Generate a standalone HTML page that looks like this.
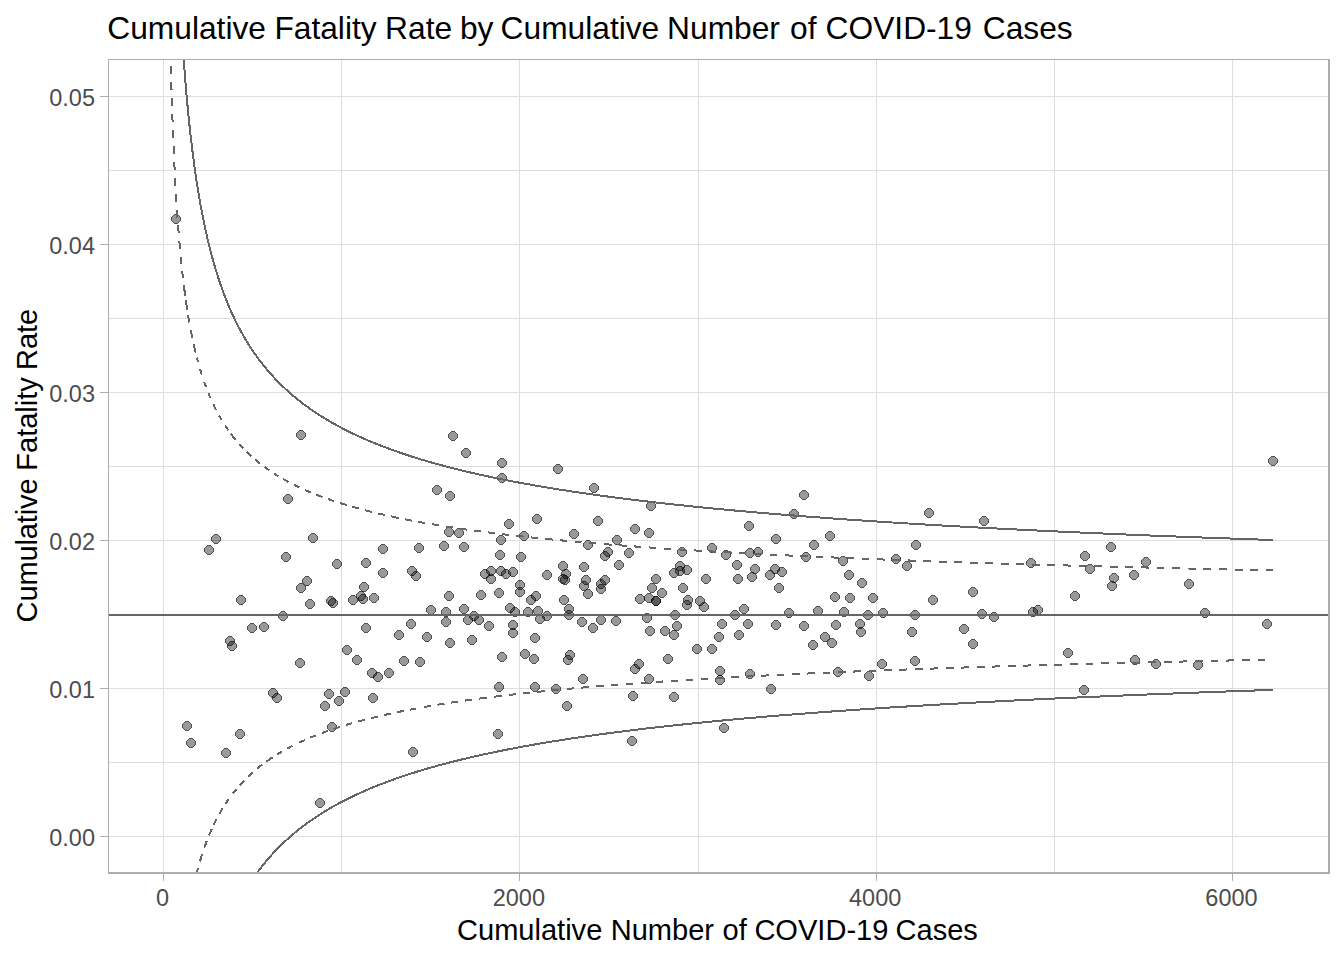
<!DOCTYPE html>
<html><head><meta charset="utf-8"><style>
html,body{margin:0;padding:0;background:#fff;}
svg{display:block;}
.gm{stroke:#DEDEDE;stroke-width:1;}
.gM{stroke:#DEDEDE;stroke-width:1;}
.tk{stroke:#ADADAD;stroke-width:1;}
.bd{stroke:#ADADAD;}
text{font-family:"Liberation Sans",Arial,sans-serif;}
.ax{font-size:23.5px;fill:#4D4D4D;}
.ay{font-size:23.5px;fill:#4D4D4D;}
.ti{font-size:31.72px;fill:#000;}
.at{font-size:29.05px;fill:#000;}
.pf circle{fill:#000;fill-opacity:0.4;stroke:none;shape-rendering:crispEdges;}
.pr circle{fill:none;stroke:#000;stroke-opacity:0.45;stroke-width:1.25;shape-rendering:crispEdges;}
.fl{fill:none;stroke:#656565;stroke-width:2;shape-rendering:crispEdges;}
.fx{fill:none;stroke:#656565;stroke-width:2;shape-rendering:crispEdges;stroke-linecap:butt;}
.fd{fill:none;stroke:#656565;stroke-width:2;shape-rendering:crispEdges;stroke-dasharray:7.75 7.75;}
</style></head><body>
<svg width="1344" height="960" viewBox="0 0 1344 960">
<defs><g id="pt"><path fill="#000" fill-opacity="0.4" d="M3,0H7V1H8V2H9V3H10V7H9V8H8V9H7V10H3V9H2V8H1V7H0V3H1V2H2V1H3Z"/><path fill="#000" fill-opacity="0.48" d="M3,0h4v1h-4z M2,1h1v1h-1z M7,1h1v1h-1z M1,2h1v1h-1z M8,2h1v1h-1z M0,3h1v4h-1z M9,3h1v4h-1z M1,7h1v1h-1z M8,7h1v1h-1z M2,8h1v1h-1z M7,8h1v1h-1z M3,9h4v1h-4z"/></g><clipPath id="pc"><rect x="108.0" y="59.0" width="1222.0" height="815.0"/></clipPath></defs>
<rect width="1344" height="960" fill="#fff"/>
<line x1="341.5" y1="59.0" x2="341.5" y2="874.0" class="gm"/>
<line x1="698.5" y1="59.0" x2="698.5" y2="874.0" class="gm"/>
<line x1="1054.5" y1="59.0" x2="1054.5" y2="874.0" class="gm"/>
<line x1="108.0" y1="762.5" x2="1330.0" y2="762.5" class="gm"/>
<line x1="108.0" y1="614.5" x2="1330.0" y2="614.5" class="gm"/>
<line x1="108.0" y1="466.5" x2="1330.0" y2="466.5" class="gm"/>
<line x1="108.0" y1="318.5" x2="1330.0" y2="318.5" class="gm"/>
<line x1="108.0" y1="170.5" x2="1330.0" y2="170.5" class="gm"/>
<line x1="163.5" y1="59.0" x2="163.5" y2="874.0" class="gM"/>
<line x1="519.5" y1="59.0" x2="519.5" y2="874.0" class="gM"/>
<line x1="876.5" y1="59.0" x2="876.5" y2="874.0" class="gM"/>
<line x1="1232.5" y1="59.0" x2="1232.5" y2="874.0" class="gM"/>
<line x1="108.0" y1="836.5" x2="1330.0" y2="836.5" class="gM"/>
<line x1="108.0" y1="688.5" x2="1330.0" y2="688.5" class="gM"/>
<line x1="108.0" y1="540.5" x2="1330.0" y2="540.5" class="gM"/>
<line x1="108.0" y1="392.5" x2="1330.0" y2="392.5" class="gM"/>
<line x1="108.0" y1="244.5" x2="1330.0" y2="244.5" class="gM"/>
<line x1="108.0" y1="96.5" x2="1330.0" y2="96.5" class="gM"/>
<g class="pf" clip-path="url(#pc)">
<use href="#pt" x="171" y="214"/>
<use href="#pt" x="296" y="430"/>
<use href="#pt" x="283" y="494"/>
<use href="#pt" x="211" y="534"/>
<use href="#pt" x="308" y="533"/>
<use href="#pt" x="204" y="545"/>
<use href="#pt" x="281" y="552"/>
<use href="#pt" x="332" y="559"/>
<use href="#pt" x="361" y="558"/>
<use href="#pt" x="448" y="431"/>
<use href="#pt" x="461" y="448"/>
<use href="#pt" x="497" y="458"/>
<use href="#pt" x="497" y="473"/>
<use href="#pt" x="553" y="464"/>
<use href="#pt" x="589" y="483"/>
<use href="#pt" x="432" y="485"/>
<use href="#pt" x="445" y="491"/>
<use href="#pt" x="504" y="519"/>
<use href="#pt" x="532" y="514"/>
<use href="#pt" x="593" y="516"/>
<use href="#pt" x="444" y="527"/>
<use href="#pt" x="454" y="528"/>
<use href="#pt" x="496" y="535"/>
<use href="#pt" x="519" y="531"/>
<use href="#pt" x="569" y="529"/>
<use href="#pt" x="583" y="540"/>
<use href="#pt" x="378" y="544"/>
<use href="#pt" x="414" y="543"/>
<use href="#pt" x="439" y="541"/>
<use href="#pt" x="459" y="542"/>
<use href="#pt" x="495" y="550"/>
<use href="#pt" x="516" y="552"/>
<use href="#pt" x="558" y="561"/>
<use href="#pt" x="579" y="562"/>
<use href="#pt" x="603" y="547"/>
<use href="#pt" x="600" y="551"/>
<use href="#pt" x="612" y="535"/>
<use href="#pt" x="630" y="524"/>
<use href="#pt" x="644" y="528"/>
<use href="#pt" x="646" y="501"/>
<use href="#pt" x="624" y="548"/>
<use href="#pt" x="614" y="560"/>
<use href="#pt" x="677" y="547"/>
<use href="#pt" x="707" y="543"/>
<use href="#pt" x="721" y="550"/>
<use href="#pt" x="744" y="521"/>
<use href="#pt" x="745" y="548"/>
<use href="#pt" x="753" y="547"/>
<use href="#pt" x="771" y="534"/>
<use href="#pt" x="789" y="509"/>
<use href="#pt" x="732" y="560"/>
<use href="#pt" x="799" y="490"/>
<use href="#pt" x="825" y="531"/>
<use href="#pt" x="809" y="540"/>
<use href="#pt" x="801" y="552"/>
<use href="#pt" x="838" y="556"/>
<use href="#pt" x="924" y="508"/>
<use href="#pt" x="979" y="516"/>
<use href="#pt" x="911" y="540"/>
<use href="#pt" x="891" y="554"/>
<use href="#pt" x="902" y="561"/>
<use href="#pt" x="1026" y="558"/>
<use href="#pt" x="1080" y="551"/>
<use href="#pt" x="1106" y="542"/>
<use href="#pt" x="1141" y="557"/>
<use href="#pt" x="1268" y="456"/>
<use href="#pt" x="302" y="576"/>
<use href="#pt" x="296" y="583"/>
<use href="#pt" x="236" y="595"/>
<use href="#pt" x="305" y="599"/>
<use href="#pt" x="326" y="596"/>
<use href="#pt" x="328" y="598"/>
<use href="#pt" x="348" y="595"/>
<use href="#pt" x="359" y="582"/>
<use href="#pt" x="356" y="591"/>
<use href="#pt" x="358" y="594"/>
<use href="#pt" x="369" y="593"/>
<use href="#pt" x="278" y="611"/>
<use href="#pt" x="247" y="623"/>
<use href="#pt" x="259" y="622"/>
<use href="#pt" x="361" y="623"/>
<use href="#pt" x="225" y="636"/>
<use href="#pt" x="227" y="641"/>
<use href="#pt" x="342" y="645"/>
<use href="#pt" x="352" y="655"/>
<use href="#pt" x="295" y="658"/>
<use href="#pt" x="367" y="668"/>
<use href="#pt" x="373" y="672"/>
<use href="#pt" x="268" y="688"/>
<use href="#pt" x="272" y="693"/>
<use href="#pt" x="324" y="689"/>
<use href="#pt" x="340" y="687"/>
<use href="#pt" x="334" y="696"/>
<use href="#pt" x="320" y="701"/>
<use href="#pt" x="368" y="693"/>
<use href="#pt" x="378" y="568"/>
<use href="#pt" x="407" y="566"/>
<use href="#pt" x="411" y="571"/>
<use href="#pt" x="480" y="569"/>
<use href="#pt" x="486" y="566"/>
<use href="#pt" x="486" y="574"/>
<use href="#pt" x="496" y="566"/>
<use href="#pt" x="501" y="569"/>
<use href="#pt" x="508" y="567"/>
<use href="#pt" x="542" y="570"/>
<use href="#pt" x="561" y="569"/>
<use href="#pt" x="558" y="574"/>
<use href="#pt" x="560" y="575"/>
<use href="#pt" x="581" y="575"/>
<use href="#pt" x="579" y="581"/>
<use href="#pt" x="583" y="589"/>
<use href="#pt" x="515" y="580"/>
<use href="#pt" x="515" y="587"/>
<use href="#pt" x="444" y="591"/>
<use href="#pt" x="476" y="590"/>
<use href="#pt" x="494" y="588"/>
<use href="#pt" x="531" y="591"/>
<use href="#pt" x="526" y="595"/>
<use href="#pt" x="559" y="595"/>
<use href="#pt" x="426" y="605"/>
<use href="#pt" x="441" y="607"/>
<use href="#pt" x="459" y="604"/>
<use href="#pt" x="469" y="611"/>
<use href="#pt" x="463" y="615"/>
<use href="#pt" x="474" y="615"/>
<use href="#pt" x="505" y="603"/>
<use href="#pt" x="510" y="607"/>
<use href="#pt" x="523" y="607"/>
<use href="#pt" x="533" y="606"/>
<use href="#pt" x="542" y="611"/>
<use href="#pt" x="535" y="614"/>
<use href="#pt" x="564" y="604"/>
<use href="#pt" x="564" y="610"/>
<use href="#pt" x="577" y="617"/>
<use href="#pt" x="588" y="623"/>
<use href="#pt" x="406" y="619"/>
<use href="#pt" x="441" y="617"/>
<use href="#pt" x="484" y="621"/>
<use href="#pt" x="508" y="620"/>
<use href="#pt" x="508" y="628"/>
<use href="#pt" x="394" y="630"/>
<use href="#pt" x="422" y="632"/>
<use href="#pt" x="445" y="638"/>
<use href="#pt" x="467" y="635"/>
<use href="#pt" x="530" y="633"/>
<use href="#pt" x="399" y="656"/>
<use href="#pt" x="415" y="657"/>
<use href="#pt" x="384" y="668"/>
<use href="#pt" x="497" y="652"/>
<use href="#pt" x="520" y="649"/>
<use href="#pt" x="529" y="654"/>
<use href="#pt" x="565" y="650"/>
<use href="#pt" x="563" y="655"/>
<use href="#pt" x="578" y="674"/>
<use href="#pt" x="494" y="682"/>
<use href="#pt" x="530" y="682"/>
<use href="#pt" x="551" y="684"/>
<use href="#pt" x="562" y="701"/>
<use href="#pt" x="600" y="575"/>
<use href="#pt" x="596" y="579"/>
<use href="#pt" x="596" y="584"/>
<use href="#pt" x="596" y="615"/>
<use href="#pt" x="611" y="616"/>
<use href="#pt" x="651" y="574"/>
<use href="#pt" x="647" y="583"/>
<use href="#pt" x="657" y="588"/>
<use href="#pt" x="635" y="594"/>
<use href="#pt" x="644" y="593"/>
<use href="#pt" x="651" y="596"/>
<use href="#pt" x="651" y="596"/>
<use href="#pt" x="675" y="561"/>
<use href="#pt" x="675" y="566"/>
<use href="#pt" x="669" y="568"/>
<use href="#pt" x="682" y="565"/>
<use href="#pt" x="678" y="583"/>
<use href="#pt" x="683" y="595"/>
<use href="#pt" x="682" y="600"/>
<use href="#pt" x="695" y="596"/>
<use href="#pt" x="699" y="602"/>
<use href="#pt" x="701" y="574"/>
<use href="#pt" x="733" y="574"/>
<use href="#pt" x="750" y="564"/>
<use href="#pt" x="747" y="572"/>
<use href="#pt" x="770" y="564"/>
<use href="#pt" x="765" y="570"/>
<use href="#pt" x="777" y="567"/>
<use href="#pt" x="774" y="583"/>
<use href="#pt" x="642" y="613"/>
<use href="#pt" x="670" y="610"/>
<use href="#pt" x="672" y="621"/>
<use href="#pt" x="645" y="626"/>
<use href="#pt" x="660" y="626"/>
<use href="#pt" x="669" y="630"/>
<use href="#pt" x="739" y="604"/>
<use href="#pt" x="730" y="610"/>
<use href="#pt" x="784" y="608"/>
<use href="#pt" x="717" y="619"/>
<use href="#pt" x="743" y="619"/>
<use href="#pt" x="771" y="620"/>
<use href="#pt" x="714" y="632"/>
<use href="#pt" x="734" y="630"/>
<use href="#pt" x="692" y="644"/>
<use href="#pt" x="707" y="644"/>
<use href="#pt" x="663" y="654"/>
<use href="#pt" x="634" y="659"/>
<use href="#pt" x="630" y="664"/>
<use href="#pt" x="644" y="674"/>
<use href="#pt" x="715" y="666"/>
<use href="#pt" x="715" y="675"/>
<use href="#pt" x="745" y="669"/>
<use href="#pt" x="766" y="684"/>
<use href="#pt" x="628" y="691"/>
<use href="#pt" x="669" y="692"/>
<use href="#pt" x="844" y="570"/>
<use href="#pt" x="857" y="578"/>
<use href="#pt" x="830" y="592"/>
<use href="#pt" x="845" y="593"/>
<use href="#pt" x="868" y="593"/>
<use href="#pt" x="928" y="595"/>
<use href="#pt" x="968" y="587"/>
<use href="#pt" x="813" y="606"/>
<use href="#pt" x="839" y="607"/>
<use href="#pt" x="863" y="610"/>
<use href="#pt" x="878" y="608"/>
<use href="#pt" x="910" y="610"/>
<use href="#pt" x="977" y="609"/>
<use href="#pt" x="989" y="612"/>
<use href="#pt" x="799" y="621"/>
<use href="#pt" x="831" y="620"/>
<use href="#pt" x="855" y="619"/>
<use href="#pt" x="856" y="627"/>
<use href="#pt" x="820" y="632"/>
<use href="#pt" x="827" y="638"/>
<use href="#pt" x="808" y="640"/>
<use href="#pt" x="907" y="627"/>
<use href="#pt" x="959" y="624"/>
<use href="#pt" x="968" y="639"/>
<use href="#pt" x="877" y="659"/>
<use href="#pt" x="910" y="656"/>
<use href="#pt" x="833" y="667"/>
<use href="#pt" x="864" y="671"/>
<use href="#pt" x="1085" y="564"/>
<use href="#pt" x="1109" y="573"/>
<use href="#pt" x="1107" y="581"/>
<use href="#pt" x="1129" y="570"/>
<use href="#pt" x="1184" y="579"/>
<use href="#pt" x="1070" y="591"/>
<use href="#pt" x="1028" y="607"/>
<use href="#pt" x="1033" y="605"/>
<use href="#pt" x="1200" y="608"/>
<use href="#pt" x="1063" y="648"/>
<use href="#pt" x="1130" y="655"/>
<use href="#pt" x="1151" y="659"/>
<use href="#pt" x="1193" y="660"/>
<use href="#pt" x="1079" y="685"/>
<use href="#pt" x="1262" y="619"/>
<use href="#pt" x="182" y="721"/>
<use href="#pt" x="186" y="738"/>
<use href="#pt" x="235" y="729"/>
<use href="#pt" x="221" y="748"/>
<use href="#pt" x="327" y="722"/>
<use href="#pt" x="315" y="798"/>
<use href="#pt" x="493" y="729"/>
<use href="#pt" x="408" y="747"/>
<use href="#pt" x="627" y="736"/>
<use href="#pt" x="719" y="723"/>
</g>
<g clip-path="url(#pc)">
<line x1="108.0" y1="615" x2="1330.0" y2="615" class="fl"/>
<path class="fl" d="M164.41,-1994.57 L164.42,-1988.07 L164.42,-1981.58 L164.43,-1975.12 L164.43,-1968.67 L164.44,-1962.23 L164.44,-1955.81 L164.45,-1949.41 L164.45,-1943.02 L164.46,-1936.65 L164.46,-1930.30 L164.47,-1923.96 L164.47,-1917.63 L164.48,-1911.33 L164.48,-1905.03 L164.49,-1898.76 L164.49,-1892.50 L164.50,-1886.25 L164.50,-1880.02 L164.51,-1873.81 L164.51,-1867.61 L164.52,-1861.43 L164.52,-1855.26 L164.53,-1849.11 L164.53,-1842.97 L164.54,-1836.85 L164.54,-1830.74 L164.55,-1824.65 L164.55,-1818.57 L164.56,-1812.51 L164.56,-1806.47 L164.57,-1800.43 L164.57,-1794.42 L164.58,-1788.42 L164.58,-1782.43 L164.59,-1776.46 L164.59,-1770.50 L164.60,-1764.56 L164.61,-1758.64 L164.61,-1752.72 L164.62,-1746.83 L164.62,-1740.95 L164.63,-1735.08 L164.63,-1729.22 L164.64,-1723.39 L164.64,-1717.56 L164.65,-1711.75 L164.66,-1705.96 L164.66,-1700.18 L164.67,-1694.41 L164.67,-1688.66 L164.68,-1682.92 L164.69,-1677.20 L164.69,-1671.49 L164.70,-1665.79 L164.70,-1660.11 L164.71,-1654.45 L164.72,-1648.80 L164.72,-1643.16 L164.73,-1637.53 L164.73,-1631.92 L164.74,-1626.33 L164.75,-1620.74 L164.75,-1615.18 L164.76,-1609.62 L164.76,-1604.08 L164.77,-1598.55 L164.78,-1593.04 L164.78,-1587.54 L164.79,-1582.06 L164.80,-1576.58 L164.80,-1571.13 L164.81,-1565.68 L164.82,-1560.25 L164.82,-1554.83 L164.83,-1549.43 L164.84,-1544.04 L164.84,-1538.66 L164.85,-1533.30 L164.86,-1527.94 L164.86,-1522.61 L164.87,-1517.28 L164.88,-1511.97 L164.88,-1506.68 L164.89,-1501.39 L164.90,-1496.12 L164.90,-1490.86 L164.91,-1485.62 L164.92,-1480.39 L164.93,-1475.17 L164.93,-1469.96 L164.94,-1464.77 L164.95,-1459.59 L164.95,-1454.42 L164.96,-1449.27 L164.97,-1444.13 L164.98,-1439.00 L164.98,-1433.88 L164.99,-1428.78 L165.00,-1423.69 L165.01,-1418.61 L165.01,-1413.55 L165.02,-1408.49 L165.03,-1403.45 L165.04,-1398.43 L165.04,-1393.41 L165.05,-1388.41 L165.06,-1383.42 L165.07,-1378.44 L165.08,-1373.48 L165.08,-1368.53 L165.09,-1363.59 L165.10,-1358.66 L165.11,-1353.74 L165.12,-1348.84 L165.12,-1343.95 L165.13,-1339.07 L165.14,-1334.20 L165.15,-1329.35 L165.16,-1324.51 L165.16,-1319.67 L165.17,-1314.86 L165.18,-1310.05 L165.19,-1305.26 L165.20,-1300.47 L165.21,-1295.70 L165.21,-1290.94 L165.22,-1286.20 L165.23,-1281.46 L165.24,-1276.74 L165.25,-1272.03 L165.26,-1267.33 L165.27,-1262.64 L165.28,-1257.96 L165.28,-1253.30 L165.29,-1248.64 L165.30,-1244.00 L165.31,-1239.37 L165.32,-1234.75 L165.33,-1230.15 L165.34,-1225.55 L165.35,-1220.97 L165.36,-1216.39 L165.37,-1211.83 L165.38,-1207.28 L165.39,-1202.75 L165.39,-1198.22 L165.40,-1193.70 L165.41,-1189.20 L165.42,-1184.70 L165.43,-1180.22 L165.44,-1175.75 L165.45,-1171.29 L165.46,-1166.84 L165.47,-1162.40 L165.48,-1157.98 L165.49,-1153.56 L165.50,-1149.16 L165.51,-1144.76 L165.52,-1140.38 L165.53,-1136.01 L165.54,-1131.65 L165.55,-1127.30 L165.56,-1122.96 L165.57,-1118.63 L165.58,-1114.31 L165.59,-1110.00 L165.60,-1105.71 L165.61,-1101.42 L165.63,-1097.15 L165.64,-1092.88 L165.65,-1088.63 L165.66,-1084.39 L165.67,-1080.15 L165.68,-1075.93 L165.69,-1071.72 L165.70,-1067.52 L165.71,-1063.33 L165.72,-1059.15 L165.73,-1054.98 L165.74,-1050.82 L165.76,-1046.67 L165.77,-1042.53 L165.78,-1038.40 L165.79,-1034.29 L165.80,-1030.18 L165.81,-1026.08 L165.82,-1021.99 L165.84,-1017.92 L165.85,-1013.85 L165.86,-1009.79 L165.87,-1005.75 L165.88,-1001.71 L165.90,-997.68 L165.91,-993.67 L165.92,-989.66 L165.93,-985.66 L165.94,-981.68 L165.96,-977.70 L165.97,-973.73 L165.98,-969.78 L165.99,-965.83 L166.01,-961.89 L166.02,-957.97 L166.03,-954.05 L166.04,-950.14 L166.06,-946.24 L166.07,-942.35 L166.08,-938.48 L166.09,-934.61 L166.11,-930.75 L166.12,-926.90 L166.13,-923.06 L166.15,-919.23 L166.16,-915.41 L166.17,-911.59 L166.19,-907.79 L166.20,-904.00 L166.21,-900.22 L166.23,-896.44 L166.24,-892.68 L166.25,-888.92 L166.27,-885.18 L166.28,-881.44 L166.30,-877.71 L166.31,-874.00 L166.32,-870.29 L166.34,-866.59 L166.35,-862.90 L166.37,-859.22 L166.38,-855.55 L166.40,-851.88 L166.41,-848.23 L166.42,-844.59 L166.44,-840.95 L166.45,-837.32 L166.47,-833.71 L166.48,-830.10 L166.50,-826.50 L166.51,-822.91 L166.53,-819.33 L166.54,-815.76 L166.56,-812.19 L166.57,-808.64 L166.59,-805.09 L166.60,-801.56 L166.62,-798.03 L166.64,-794.51 L166.65,-791.00 L166.67,-787.50 L166.68,-784.00 L166.70,-780.52 L166.71,-777.04 L166.73,-773.58 L166.75,-770.12 L166.76,-766.67 L166.78,-763.23 L166.80,-759.79 L166.81,-756.37 L166.83,-752.96 L166.85,-749.55 L166.86,-746.15 L166.88,-742.76 L166.90,-739.38 L166.91,-736.01 L166.93,-732.64 L166.95,-729.28 L166.96,-725.94 L166.98,-722.60 L167.00,-719.26 L167.02,-715.94 L167.03,-712.63 L167.05,-709.32 L167.07,-706.02 L167.09,-702.73 L167.11,-699.45 L167.12,-696.18 L167.14,-692.91 L167.16,-689.65 L167.18,-686.40 L167.20,-683.16 L167.22,-679.93 L167.23,-676.70 L167.25,-673.49 L167.27,-670.28 L167.29,-667.08 L167.31,-663.88 L167.33,-660.70 L167.35,-657.52 L167.37,-654.35 L167.39,-651.19 L167.40,-648.04 L167.42,-644.89 L167.44,-641.75 L167.46,-638.62 L167.48,-635.50 L167.50,-632.39 L167.52,-629.28 L167.54,-626.18 L167.56,-623.09 L167.58,-620.01 L167.60,-616.93 L167.63,-613.86 L167.65,-610.80 L167.67,-607.75 L167.69,-604.70 L167.71,-601.67 L167.73,-598.64 L167.75,-595.61 L167.77,-592.60 L167.79,-589.59 L167.81,-586.59 L167.84,-583.60 L167.86,-580.61 L167.88,-577.64 L167.90,-574.67 L167.92,-571.70 L167.95,-568.75 L167.97,-565.80 L167.99,-562.86 L168.01,-559.92 L168.04,-557.00 L168.06,-554.08 L168.08,-551.17 L168.10,-548.26 L168.13,-545.37 L168.15,-542.48 L168.17,-539.59 L168.20,-536.72 L168.22,-533.85 L168.24,-530.99 L168.27,-528.13 L168.29,-525.29 L168.31,-522.45 L168.34,-519.61 L168.36,-516.79 L168.39,-513.97 L168.41,-511.16 L168.44,-508.35 L168.46,-505.56 L168.49,-502.76 L168.51,-499.98 L168.54,-497.20 L168.56,-494.43 L168.59,-491.67 L168.61,-488.91 L168.64,-486.17 L168.66,-483.42 L168.69,-480.69 L168.71,-477.96 L168.74,-475.24 L168.77,-472.52 L168.79,-469.81 L168.82,-467.11 L168.85,-464.42 L168.87,-461.73 L168.90,-459.05 L168.93,-456.37 L168.95,-453.70 L168.98,-451.04 L169.01,-448.39 L169.04,-445.74 L169.06,-443.10 L169.09,-440.46 L169.12,-437.83 L169.15,-435.21 L169.18,-432.59 L169.20,-429.98 L169.23,-427.38 L169.26,-424.79 L169.29,-422.20 L169.32,-419.61 L169.35,-417.04 L169.38,-414.47 L169.41,-411.90 L169.44,-409.35 L169.47,-406.79 L169.50,-404.25 L169.53,-401.71 L169.56,-399.18 L169.59,-396.65 L169.62,-394.13 L169.65,-391.62 L169.68,-389.11 L169.71,-386.61 L169.74,-384.12 L169.77,-381.63 L169.80,-379.15 L169.83,-376.67 L169.87,-374.20 L169.90,-371.74 L169.93,-369.28 L169.96,-366.83 L169.99,-364.38 L170.03,-361.94 L170.06,-359.51 L170.09,-357.08 L170.13,-354.66 L170.16,-352.25 L170.19,-349.84 L170.23,-347.44 L170.26,-345.04 L170.29,-342.65 L170.33,-340.26 L170.36,-337.88 L170.40,-335.51 L170.43,-333.14 L170.46,-330.78 L170.50,-328.43 L170.53,-326.08 L170.57,-323.73 L170.60,-321.40 L170.64,-319.06 L170.68,-316.74 L170.71,-314.42 L170.75,-312.10 L170.78,-309.79 L170.82,-307.49 L170.86,-305.19 L170.89,-302.90 L170.93,-300.61 L170.97,-298.33 L171.01,-296.06 L171.04,-293.79 L171.08,-291.53 L171.12,-289.27 L171.16,-287.02 L171.19,-284.77 L171.23,-282.53 L171.27,-280.29 L171.31,-278.07 L171.35,-275.84 L171.39,-273.62 L171.43,-271.41 L171.47,-269.20 L171.51,-267.00 L171.55,-264.80 L171.59,-262.61 L171.63,-260.43 L171.67,-258.25 L171.71,-256.07 L171.75,-253.90 L171.79,-251.74 L171.83,-249.58 L171.88,-247.43 L171.92,-245.28 L171.96,-243.14 L172.00,-241.00 L172.04,-238.87 L172.09,-236.74 L172.13,-234.62 L172.17,-232.50 L172.22,-230.39 L172.26,-228.29 L172.30,-226.19 L172.35,-224.09 L172.39,-222.00 L172.44,-219.92 L172.48,-217.84 L172.53,-215.76 L172.57,-213.69 L172.62,-211.63 L172.66,-209.57 L172.71,-207.52 L172.75,-205.47 L172.80,-203.43 L172.85,-201.39 L172.89,-199.35 L172.94,-197.33 L172.99,-195.30 L173.04,-193.29 L173.08,-191.27 L173.13,-189.26 L173.18,-187.26 L173.23,-185.26 L173.28,-183.27 L173.33,-181.28 L173.37,-179.30 L173.42,-177.32 L173.47,-175.35 L173.52,-173.38 L173.57,-171.42 L173.62,-169.46 L173.67,-167.50 L173.73,-165.55 L173.78,-163.61 L173.83,-161.67 L173.88,-159.74 L173.93,-157.81 L173.98,-155.88 L174.04,-153.96 L174.09,-152.05 L174.14,-150.14 L174.19,-148.23 L174.25,-146.33 L174.30,-144.44 L174.36,-142.54 L174.41,-140.66 L174.46,-138.78 L174.52,-136.90 L174.57,-135.03 L174.63,-133.16 L174.69,-131.29 L174.74,-129.44 L174.80,-127.58 L174.85,-125.73 L174.91,-123.89 L174.97,-122.05 L175.03,-120.21 L175.08,-118.38 L175.14,-116.55 L175.20,-114.73 L175.26,-112.92 L175.32,-111.10 L175.38,-109.29 L175.43,-107.49 L175.49,-105.69 L175.55,-103.90 L175.61,-102.11 L175.68,-100.32 L175.74,-98.54 L175.80,-96.76 L175.86,-94.99 L175.92,-93.22 L175.98,-91.46 L176.05,-89.70 L176.11,-87.94 L176.17,-86.19 L176.23,-84.45 L176.30,-82.70 L176.36,-80.97 L176.43,-79.23 L176.49,-77.50 L176.56,-75.78 L176.62,-74.06 L176.69,-72.34 L176.75,-70.63 L176.82,-68.92 L176.89,-67.22 L176.95,-65.52 L177.02,-63.83 L177.09,-62.14 L177.16,-60.45 L177.22,-58.77 L177.29,-57.09 L177.36,-55.41 L177.43,-53.75 L177.50,-52.08 L177.57,-50.42 L177.64,-48.76 L177.71,-47.11 L177.78,-45.46 L177.85,-43.81 L177.93,-42.17 L178.00,-40.54 L178.07,-38.90 L178.14,-37.28 L178.22,-35.65 L178.29,-34.03 L178.36,-32.41 L178.44,-30.80 L178.51,-29.19 L178.59,-27.59 L178.66,-25.99 L178.74,-24.39 L178.82,-22.80 L178.89,-21.21 L178.97,-19.63 L179.05,-18.05 L179.12,-16.47 L179.20,-14.90 L179.28,-13.33 L179.36,-11.76 L179.44,-10.20 L179.52,-8.65 L179.60,-7.09 L179.68,-5.54 L179.76,-4.00 L179.84,-2.46 L179.92,-0.92 L180.00,0.61 L180.09,2.14 L180.17,3.67 L180.25,5.19 L180.34,6.71 L180.42,8.23 L180.51,9.74 L180.59,11.25 L180.68,12.75 L180.76,14.25 L180.85,15.75 L180.94,17.24 L181.02,18.73 L181.11,20.21 L181.20,21.69 L181.29,23.17 L181.38,24.64 L181.47,26.11 L181.56,27.58 L181.65,29.04 L181.74,30.50 L181.83,31.96 L181.92,33.41 L182.01,34.86 L182.10,36.30 L182.20,37.75 L182.29,39.18 L182.38,40.62 L182.48,42.05 L182.57,43.47 L182.67,44.90 L182.76,46.32 L182.86,47.73 L182.96,49.15 L183.05,50.56 L183.15,51.96 L183.25,53.36 L183.35,54.76 L183.45,56.16 L183.55,57.55 L183.65,58.94 L183.75,60.32 L183.85,61.70 L183.95,63.08 L184.06,64.46 L184.16,65.83 L184.26,67.19 L184.36,68.56 L184.47,69.92 L184.57,71.28 L184.68,72.63 L184.79,73.98 L184.89,75.33 L185.00,76.67 L185.11,78.01 L185.21,79.35 L185.32,80.69 L185.43,82.02 L185.54,83.34 L185.65,84.67 L185.76,85.99 L185.87,87.31 L185.99,88.62 L186.10,89.93 L186.21,91.24 L186.32,92.54 L186.44,93.84 L186.55,95.14 L186.67,96.44 L186.78,97.73 L186.90,99.02 L187.02,100.30 L187.14,101.58 L187.25,102.86 L187.37,104.14 L187.49,105.41 L187.61,106.68 L187.73,107.94 L187.85,109.21 L187.98,110.47 L188.10,111.72 L188.22,112.98 L188.34,114.23 L188.47,115.47 L188.59,116.72 L188.72,117.96 L188.85,119.20 L188.97,120.43 L189.10,121.66 L189.23,122.89 L189.36,124.12 L189.49,125.34 L189.61,126.56 L189.75,127.78 L189.88,128.99 L190.01,130.20 L190.14,131.41 L190.27,132.61 L190.41,133.81 L190.54,135.01 L190.68,136.21 L190.81,137.40 L190.95,138.59 L191.09,139.77 L191.23,140.96 L191.36,142.14 L191.50,143.32 L191.64,144.49 L191.78,145.66 L191.93,146.83 L192.07,148.00 L192.21,149.16 L192.35,150.32 L192.50,151.48 L192.64,152.63 L192.79,153.78 L192.94,154.93 L193.08,156.08 L193.23,157.22 L193.38,158.36 L193.53,159.50 L193.68,160.63 L193.83,161.76 L193.98,162.89 L194.13,164.02 L194.29,165.14 L194.44,166.26 L194.60,167.38 L194.75,168.49 L194.91,169.61 L195.06,170.71 L195.22,171.82 L195.38,172.92 L195.54,174.03 L195.70,175.12 L195.86,176.22 L196.02,177.31 L196.19,178.40 L196.35,179.49 L196.51,180.57 L196.68,181.66 L196.84,182.73 L197.01,183.81 L197.18,184.89 L197.35,185.96 L197.52,187.02 L197.69,188.09 L197.86,189.15 L198.03,190.21 L198.20,191.27 L198.38,192.33 L198.55,193.38 L198.73,194.43 L198.90,195.48 L199.08,196.52 L199.26,197.56 L199.43,198.60 L199.61,199.64 L199.80,200.68 L199.98,201.71 L200.16,202.74 L200.34,203.76 L200.53,204.79 L200.71,205.81 L200.90,206.83 L201.08,207.84 L201.27,208.86 L201.46,209.87 L201.65,210.88 L201.84,211.88 L202.03,212.89 L202.23,213.89 L202.42,214.89 L202.61,215.89 L202.81,216.88 L203.01,217.87 L203.20,218.86 L203.40,219.85 L203.60,220.83 L203.80,221.81 L204.00,222.79 L204.21,223.77 L204.41,224.74 L204.62,225.71 L204.82,226.68 L205.03,227.65 L205.23,228.61 L205.44,229.58 L205.65,230.54 L205.86,231.49 L206.08,232.45 L206.29,233.40 L206.50,234.35 L206.72,235.30 L206.93,236.25 L207.15,237.19 L207.37,238.13 L207.59,239.07 L207.81,240.00 L208.03,240.94 L208.25,241.87 L208.48,242.80 L208.70,243.73 L208.93,244.65 L209.15,245.57 L209.38,246.49 L209.61,247.41 L209.84,248.33 L210.07,249.24 L210.31,250.15 L210.54,251.06 L210.78,251.96 L211.01,252.87 L211.25,253.77 L211.49,254.67 L211.73,255.57 L211.97,256.46 L212.21,257.36 L212.46,258.25 L212.70,259.13 L212.95,260.02 L213.19,260.90 L213.44,261.79 L213.69,262.67 L213.94,263.54 L214.20,264.42 L214.45,265.29 L214.70,266.16 L214.96,267.03 L215.22,267.90 L215.48,268.76 L215.74,269.62 L216.00,270.48 L216.26,271.34 L216.52,272.20 L216.79,273.05 L217.06,273.90 L217.32,274.75 L217.59,275.60 L217.86,276.45 L218.13,277.29 L218.41,278.13 L218.68,278.97 L218.96,279.81 L219.24,280.64 L219.51,281.47 L219.79,282.30 L220.08,283.13 L220.36,283.96 L220.64,284.78 L220.93,285.60 L221.22,286.43 L221.50,287.24 L221.79,288.06 L222.09,288.87 L222.38,289.69 L222.67,290.50 L222.97,291.30 L223.27,292.11 L223.56,292.91 L223.87,293.72 L224.17,294.52 L224.47,295.31 L224.78,296.11 L225.08,296.90 L225.39,297.70 L225.70,298.49 L226.01,299.27 L226.32,300.06 L226.64,300.85 L226.95,301.63 L227.27,302.41 L227.59,303.19 L227.91,303.96 L228.23,304.74 L228.55,305.51 L228.88,306.28 L229.21,307.05 L229.54,307.82 L229.87,308.58 L230.20,309.34 L230.53,310.11 L230.87,310.86 L231.20,311.62 L231.54,312.38 L231.88,313.13 L232.22,313.88 L232.57,314.63 L232.91,315.38 L233.26,316.13 L233.61,316.87 L233.96,317.61 L234.31,318.35 L234.67,319.09 L235.02,319.83 L235.38,320.56 L235.74,321.30 L236.10,322.03 L236.46,322.76 L236.83,323.49 L237.19,324.21 L237.56,324.94 L237.93,325.66 L238.30,326.38 L238.68,327.10 L239.05,327.82 L239.43,328.53 L239.81,329.24 L240.19,329.96 L240.58,330.67 L240.96,331.37 L241.35,332.08 L241.74,332.78 L242.13,333.49 L242.52,334.19 L242.92,334.89 L243.32,335.58 L243.71,336.28 L244.12,336.97 L244.52,337.67 L244.92,338.36 L245.33,339.05 L245.74,339.73 L246.15,340.42 L246.56,341.10 L246.98,341.78 L247.40,342.46 L247.82,343.14 L248.24,343.82 L248.66,344.50 L249.09,345.17 L249.52,345.84 L249.95,346.51 L250.38,347.18 L250.81,347.85 L251.25,348.51 L251.69,349.18 L252.13,349.84 L252.57,350.50 L253.02,351.16 L253.46,351.81 L253.91,352.47 L254.37,353.12 L254.82,353.78 L255.28,354.43 L255.74,355.07 L256.20,355.72 L256.66,356.37 L257.13,357.01 L257.60,357.65 L258.07,358.29 L258.54,358.93 L259.01,359.57 L259.49,360.21 L259.97,360.84 L260.45,361.47 L260.94,362.11 L261.43,362.74 L261.92,363.36 L262.41,363.99 L262.90,364.62 L263.40,365.24 L263.90,365.86 L264.40,366.48 L264.90,367.10 L265.41,367.72 L265.92,368.33 L266.43,368.95 L266.95,369.56 L267.47,370.17 L267.99,370.78 L268.51,371.39 L269.03,372.00 L269.56,372.60 L270.09,373.20 L270.62,373.81 L271.16,374.41 L271.70,375.01 L272.24,375.60 L272.78,376.20 L273.33,376.79 L273.88,377.39 L274.43,377.98 L274.98,378.57 L275.54,379.16 L276.10,379.75 L276.66,380.33 L277.23,380.92 L277.80,381.50 L278.37,382.08 L278.95,382.66 L279.52,383.24 L280.10,383.82 L280.69,384.39 L281.27,384.97 L281.86,385.54 L282.45,386.11 L283.05,386.68 L283.64,387.25 L284.25,387.82 L284.85,388.38 L285.46,388.95 L286.07,389.51 L286.68,390.07 L287.29,390.63 L287.91,391.19 L288.54,391.75 L289.16,392.30 L289.79,392.86 L290.42,393.41 L291.05,393.96 L291.69,394.51 L292.33,395.06 L292.98,395.61 L293.63,396.15 L294.28,396.70 L294.93,397.24 L295.59,397.79 L296.25,398.33 L296.91,398.87 L297.58,399.40 L298.25,399.94 L298.92,400.48 L299.60,401.01 L300.28,401.54 L300.96,402.07 L301.65,402.60 L302.34,403.13 L303.04,403.66 L303.73,404.19 L304.43,404.71 L305.14,405.24 L305.85,405.76 L306.56,406.28 L307.27,406.80 L307.99,407.32 L308.72,407.83 L309.44,408.35 L310.17,408.87 L310.91,409.38 L311.64,409.89 L312.38,410.40 L313.13,410.91 L313.88,411.42 L314.63,411.93 L315.38,412.43 L316.14,412.94 L316.91,413.44 L317.67,413.94 L318.44,414.44 L319.22,414.94 L320.00,415.44 L320.78,415.94 L321.57,416.43 L322.36,416.93 L323.15,417.42 L323.95,417.91 L324.75,418.40 L325.56,418.89 L326.37,419.38 L327.18,419.87 L328.00,420.35 L328.82,420.84 L329.65,421.32 L330.48,421.80 L331.31,422.28 L332.15,422.76 L333.00,423.24 L333.84,423.72 L334.70,424.20 L335.55,424.67 L336.41,425.15 L337.28,425.62 L338.15,426.09 L339.02,426.56 L339.90,427.03 L340.78,427.50 L341.67,427.96 L342.56,428.43 L343.45,428.89 L344.35,429.36 L345.26,429.82 L346.16,430.28 L347.08,430.74 L348.00,431.20 L348.92,431.66 L349.84,432.11 L350.78,432.57 L351.71,433.02 L352.65,433.48 L353.60,433.93 L354.55,434.38 L355.51,434.83 L356.47,435.28 L357.43,435.73 L358.40,436.17 L359.37,436.62 L360.35,437.06 L361.34,437.50 L362.33,437.95 L363.32,438.39 L364.32,438.83 L365.32,439.27 L366.33,439.70 L367.35,440.14 L368.37,440.57 L369.39,441.01 L370.42,441.44 L371.46,441.87 L372.50,442.31 L373.54,442.74 L374.59,443.16 L375.65,443.59 L376.71,444.02 L377.77,444.44 L378.84,444.87 L379.92,445.29 L381.00,445.72 L382.09,446.14 L383.18,446.56 L384.28,446.98 L385.39,447.39 L386.50,447.81 L387.61,448.23 L388.73,448.64 L389.86,449.06 L390.99,449.47 L392.13,449.88 L393.27,450.29 L394.42,450.70 L395.57,451.11 L396.73,451.52 L397.90,451.93 L399.07,452.33 L400.25,452.74 L401.43,453.14 L402.62,453.55 L403.82,453.95 L405.02,454.35 L406.23,454.75 L407.44,455.15 L408.66,455.55 L409.89,455.94 L411.12,456.34 L412.36,456.73 L413.60,457.13 L414.85,457.52 L416.11,457.91 L417.37,458.30 L418.64,458.69 L419.92,459.08 L421.20,459.47 L422.49,459.86 L423.78,460.25 L425.08,460.63 L426.39,461.02 L427.71,461.40 L429.03,461.78 L430.35,462.16 L431.69,462.54 L433.03,462.92 L434.38,463.30 L435.73,463.68 L437.09,464.06 L438.46,464.43 L439.84,464.81 L441.22,465.18 L442.61,465.55 L444.00,465.93 L445.40,466.30 L446.81,466.67 L448.23,467.04 L449.65,467.40 L451.08,467.77 L452.52,468.14 L453.97,468.50 L455.42,468.87 L456.88,469.23 L458.35,469.60 L459.82,469.96 L461.30,470.32 L462.79,470.68 L464.29,471.04 L465.79,471.40 L467.30,471.75 L468.82,472.11 L470.35,472.47 L471.88,472.82 L473.42,473.18 L474.97,473.53 L476.53,473.88 L478.10,474.23 L479.67,474.58 L481.25,474.93 L482.84,475.28 L484.44,475.63 L486.04,475.98 L487.65,476.32 L489.27,476.67 L490.90,477.01 L492.54,477.36 L494.18,477.70 L495.84,478.04 L497.50,478.38 L499.17,478.72 L500.85,479.06 L502.54,479.40 L504.23,479.74 L505.93,480.07 L507.65,480.41 L509.37,480.74 L511.10,481.08 L512.83,481.41 L514.58,481.74 L516.34,482.08 L518.10,482.41 L519.87,482.74 L521.66,483.07 L523.45,483.39 L525.25,483.72 L527.05,484.05 L528.87,484.38 L530.70,484.70 L532.54,485.02 L534.38,485.35 L536.23,485.67 L538.10,485.99 L539.97,486.31 L541.85,486.63 L543.75,486.95 L545.65,487.27 L547.56,487.59 L549.48,487.91 L551.41,488.22 L553.35,488.54 L555.30,488.86 L557.26,489.17 L559.22,489.48 L561.20,489.79 L563.19,490.11 L565.19,490.42 L567.20,490.73 L569.22,491.04 L571.25,491.35 L573.28,491.65 L575.33,491.96 L577.39,492.27 L579.46,492.57 L581.54,492.88 L583.63,493.18 L585.73,493.48 L587.84,493.79 L589.97,494.09 L592.10,494.39 L594.24,494.69 L596.39,494.99 L598.56,495.29 L600.73,495.59 L602.92,495.88 L605.12,496.18 L607.33,496.48 L609.54,496.77 L611.77,497.07 L614.02,497.36 L616.27,497.65 L618.53,497.94 L620.81,498.24 L623.09,498.53 L625.39,498.82 L627.70,499.11 L630.02,499.39 L632.36,499.68 L634.70,499.97 L637.06,500.26 L639.42,500.54 L641.80,500.83 L644.19,501.11 L646.60,501.39 L649.01,501.68 L651.44,501.96 L653.88,502.24 L656.33,502.52 L658.80,502.80 L661.27,503.08 L663.76,503.36 L666.26,503.64 L668.78,503.91 L671.30,504.19 L673.84,504.47 L676.39,504.74 L678.96,505.02 L681.54,505.29 L684.13,505.56 L686.73,505.83 L689.35,506.11 L691.97,506.38 L694.62,506.65 L697.27,506.92 L699.94,507.19 L702.61,507.45 L705.29,507.72 L707.96,507.98 L710.63,508.24 L713.30,508.50 L715.98,508.76 L718.65,509.02 L721.32,509.27 L723.99,509.52 L726.67,509.77 L729.34,510.02 L732.01,510.27 L734.68,510.52 L737.36,510.76 L740.03,511.00 L742.70,511.24 L745.37,511.48 L748.05,511.72 L750.72,511.95 L753.39,512.18 L756.06,512.42 L758.74,512.65 L761.41,512.88 L764.08,513.10 L766.75,513.33 L769.43,513.55 L772.10,513.78 L774.77,514.00 L777.44,514.22 L780.12,514.44 L782.79,514.65 L785.46,514.87 L788.13,515.08 L790.81,515.30 L793.48,515.51 L796.15,515.72 L798.82,515.93 L801.50,516.13 L804.17,516.34 L806.84,516.55 L809.51,516.75 L812.19,516.95 L814.86,517.15 L817.53,517.35 L820.20,517.55 L822.88,517.75 L825.55,517.95 L828.22,518.14 L830.89,518.34 L833.57,518.53 L836.24,518.72 L838.91,518.91 L841.58,519.10 L844.26,519.29 L846.93,519.48 L849.60,519.66 L852.27,519.85 L854.95,520.03 L857.62,520.21 L860.29,520.40 L862.96,520.58 L865.64,520.76 L868.31,520.93 L870.98,521.11 L873.65,521.29 L876.33,521.46 L879.00,521.64 L881.67,521.81 L884.34,521.99 L887.02,522.16 L889.69,522.33 L892.36,522.50 L895.03,522.67 L897.71,522.84 L900.38,523.00 L903.05,523.17 L905.72,523.33 L908.40,523.50 L911.07,523.66 L913.74,523.83 L916.41,523.99 L919.09,524.15 L921.76,524.31 L924.43,524.47 L927.10,524.63 L929.78,524.78 L932.45,524.94 L935.12,525.10 L937.79,525.25 L940.47,525.41 L943.14,525.56 L945.81,525.71 L948.48,525.86 L951.16,526.02 L953.83,526.17 L956.50,526.32 L959.17,526.47 L961.85,526.61 L964.52,526.76 L967.19,526.91 L969.86,527.05 L972.54,527.20 L975.21,527.34 L977.88,527.49 L980.55,527.63 L983.23,527.77 L985.90,527.91 L988.57,528.06 L991.24,528.20 L993.92,528.34 L996.59,528.47 L999.26,528.61 L1001.93,528.75 L1004.61,528.89 L1007.28,529.02 L1009.95,529.16 L1012.62,529.30 L1015.30,529.43 L1017.97,529.56 L1020.64,529.70 L1023.31,529.83 L1025.99,529.96 L1028.66,530.09 L1031.33,530.22 L1034.00,530.35 L1036.68,530.48 L1039.35,530.61 L1042.02,530.74 L1044.69,530.87 L1047.37,531.00 L1050.04,531.12 L1052.71,531.25 L1055.38,531.37 L1058.06,531.50 L1060.73,531.62 L1063.40,531.75 L1066.07,531.87 L1068.75,531.99 L1071.42,532.11 L1074.09,532.24 L1076.76,532.36 L1079.44,532.48 L1082.11,532.60 L1084.78,532.72 L1087.45,532.84 L1090.13,532.96 L1092.80,533.07 L1095.47,533.19 L1098.14,533.31 L1100.82,533.42 L1103.49,533.54 L1106.16,533.66 L1108.83,533.77 L1111.51,533.89 L1114.18,534.00 L1116.85,534.11 L1119.52,534.23 L1122.20,534.34 L1124.87,534.45 L1127.54,534.56 L1130.21,534.67 L1132.89,534.78 L1135.56,534.89 L1138.23,535.00 L1140.90,535.11 L1143.58,535.22 L1146.25,535.33 L1148.92,535.44 L1151.59,535.55 L1154.27,535.65 L1156.94,535.76 L1159.61,535.87 L1162.28,535.97 L1164.96,536.08 L1167.63,536.18 L1170.30,536.29 L1172.97,536.39 L1175.65,536.50 L1178.32,536.60 L1180.99,536.70 L1183.67,536.80 L1186.34,536.91 L1189.01,537.01 L1191.68,537.11 L1194.36,537.21 L1197.03,537.31 L1199.70,537.41 L1202.37,537.51 L1205.05,537.61 L1207.72,537.71 L1210.39,537.81 L1213.06,537.91 L1215.74,538.00 L1218.41,538.10 L1221.08,538.20 L1223.75,538.30 L1226.43,538.39 L1229.10,538.49 L1231.77,538.58 L1234.44,538.68 L1237.12,538.77 L1239.79,538.87 L1242.46,538.96 L1245.13,539.06 L1247.81,539.15 L1250.48,539.24 L1253.15,539.34 L1255.82,539.43 L1258.50,539.52 L1261.17,539.61 L1263.84,539.70 L1266.51,539.80 L1269.19,539.89 L1271.86,539.98 L1272.77,540.01"/>
<path class="fl" d="M164.60,2994.45 L164.61,2988.52 L164.61,2982.61 L164.62,2976.72 L164.62,2970.83 L164.63,2964.97 L164.63,2959.11 L164.64,2953.27 L164.64,2947.45 L164.65,2941.64 L164.66,2935.85 L164.66,2930.06 L164.67,2924.30 L164.67,2918.55 L164.68,2912.81 L164.69,2907.09 L164.69,2901.38 L164.70,2895.68 L164.70,2890.00 L164.71,2884.34 L164.72,2878.68 L164.72,2873.04 L164.73,2867.42 L164.73,2861.81 L164.74,2856.21 L164.75,2850.63 L164.75,2845.06 L164.76,2839.51 L164.76,2833.97 L164.77,2828.44 L164.78,2822.93 L164.78,2817.43 L164.79,2811.94 L164.80,2806.47 L164.80,2801.01 L164.81,2795.57 L164.82,2790.14 L164.82,2784.72 L164.83,2779.32 L164.84,2773.92 L164.84,2768.55 L164.85,2763.18 L164.86,2757.83 L164.86,2752.50 L164.87,2747.17 L164.88,2741.86 L164.88,2736.56 L164.89,2731.28 L164.90,2726.01 L164.90,2720.75 L164.91,2715.51 L164.92,2710.27 L164.93,2705.06 L164.93,2699.85 L164.94,2694.66 L164.95,2689.48 L164.95,2684.31 L164.96,2679.16 L164.97,2674.01 L164.98,2668.89 L164.98,2663.77 L164.99,2658.67 L165.00,2653.58 L165.01,2648.50 L165.01,2643.43 L165.02,2638.38 L165.03,2633.34 L165.04,2628.32 L165.04,2623.30 L165.05,2618.30 L165.06,2613.31 L165.07,2608.33 L165.08,2603.37 L165.08,2598.41 L165.09,2593.47 L165.10,2588.55 L165.11,2583.63 L165.12,2578.73 L165.12,2573.84 L165.13,2568.96 L165.14,2564.09 L165.15,2559.24 L165.16,2554.39 L165.16,2549.56 L165.17,2544.74 L165.18,2539.94 L165.19,2535.14 L165.20,2530.36 L165.21,2525.59 L165.21,2520.83 L165.22,2516.08 L165.23,2511.35 L165.24,2506.63 L165.25,2501.91 L165.26,2497.21 L165.27,2492.53 L165.28,2487.85 L165.28,2483.19 L165.29,2478.53 L165.30,2473.89 L165.31,2469.26 L165.32,2464.64 L165.33,2460.04 L165.34,2455.44 L165.35,2450.86 L165.36,2446.28 L165.37,2441.72 L165.38,2437.17 L165.39,2432.63 L165.39,2428.11 L165.40,2423.59 L165.41,2419.09 L165.42,2414.59 L165.43,2410.11 L165.44,2405.64 L165.45,2401.18 L165.46,2396.73 L165.47,2392.29 L165.48,2387.86 L165.49,2383.45 L165.50,2379.04 L165.51,2374.65 L165.52,2370.27 L165.53,2365.90 L165.54,2361.53 L165.55,2357.18 L165.56,2352.85 L165.57,2348.52 L165.58,2344.20 L165.59,2339.89 L165.60,2335.60 L165.61,2331.31 L165.63,2327.04 L165.64,2322.77 L165.65,2318.52 L165.66,2314.27 L165.67,2310.04 L165.68,2305.82 L165.69,2301.61 L165.70,2297.41 L165.71,2293.22 L165.72,2289.04 L165.73,2284.87 L165.74,2280.71 L165.76,2276.56 L165.77,2272.42 L165.78,2268.29 L165.79,2264.17 L165.80,2260.07 L165.81,2255.97 L165.82,2251.88 L165.84,2247.81 L165.85,2243.74 L165.86,2239.68 L165.87,2235.63 L165.88,2231.60 L165.90,2227.57 L165.91,2223.56 L165.92,2219.55 L165.93,2215.55 L165.94,2211.57 L165.96,2207.59 L165.97,2203.62 L165.98,2199.67 L165.99,2195.72 L166.01,2191.78 L166.02,2187.85 L166.03,2183.94 L166.04,2180.03 L166.06,2176.13 L166.07,2172.24 L166.08,2168.36 L166.09,2164.49 L166.11,2160.63 L166.12,2156.79 L166.13,2152.94 L166.15,2149.11 L166.16,2145.29 L166.17,2141.48 L166.19,2137.68 L166.20,2133.89 L166.21,2130.10 L166.23,2126.33 L166.24,2122.57 L166.25,2118.81 L166.27,2115.06 L166.28,2111.33 L166.30,2107.60 L166.31,2103.88 L166.32,2100.18 L166.34,2096.48 L166.35,2092.79 L166.37,2089.11 L166.38,2085.43 L166.40,2081.77 L166.41,2078.12 L166.42,2074.47 L166.44,2070.84 L166.45,2067.21 L166.47,2063.60 L166.48,2059.99 L166.50,2056.39 L166.51,2052.80 L166.53,2049.22 L166.54,2045.64 L166.56,2042.08 L166.57,2038.53 L166.59,2034.98 L166.60,2031.44 L166.62,2027.92 L166.64,2024.40 L166.65,2020.89 L166.67,2017.38 L166.68,2013.89 L166.70,2010.41 L166.71,2006.93 L166.73,2003.46 L166.75,2000.01 L166.76,1996.56 L166.78,1993.12 L166.80,1989.68 L166.81,1986.26 L166.83,1982.84 L166.85,1979.44 L166.86,1976.04 L166.88,1972.65 L166.90,1969.27 L166.91,1965.89 L166.93,1962.53 L166.95,1959.17 L166.96,1955.82 L166.98,1952.48 L167.00,1949.15 L167.02,1945.83 L167.03,1942.51 L167.05,1939.21 L167.07,1935.91 L167.09,1932.62 L167.11,1929.34 L167.12,1926.06 L167.14,1922.80 L167.16,1919.54 L167.18,1916.29 L167.20,1913.05 L167.22,1909.82 L167.23,1906.59 L167.25,1903.38 L167.27,1900.17 L167.29,1896.97 L167.31,1893.77 L167.33,1890.59 L167.35,1887.41 L167.37,1884.24 L167.39,1881.08 L167.40,1877.93 L167.42,1874.78 L167.44,1871.64 L167.46,1868.51 L167.48,1865.39 L167.50,1862.28 L167.52,1859.17 L167.54,1856.07 L167.56,1852.98 L167.58,1849.90 L167.60,1846.82 L167.63,1843.75 L167.65,1840.69 L167.67,1837.64 L167.69,1834.59 L167.71,1831.55 L167.73,1828.52 L167.75,1825.50 L167.77,1822.49 L167.79,1819.48 L167.81,1816.48 L167.84,1813.49 L167.86,1810.50 L167.88,1807.52 L167.90,1804.55 L167.92,1801.59 L167.95,1798.63 L167.97,1795.69 L167.99,1792.75 L168.01,1789.81 L168.04,1786.89 L168.06,1783.97 L168.08,1781.06 L168.10,1778.15 L168.13,1775.25 L168.15,1772.36 L168.17,1769.48 L168.20,1766.61 L168.22,1763.74 L168.24,1760.88 L168.27,1758.02 L168.29,1755.18 L168.31,1752.34 L168.34,1749.50 L168.36,1746.68 L168.39,1743.86 L168.41,1741.05 L168.44,1738.24 L168.46,1735.44 L168.49,1732.65 L168.51,1729.87 L168.54,1727.09 L168.56,1724.32 L168.59,1721.56 L168.61,1718.80 L168.64,1716.05 L168.66,1713.31 L168.69,1710.58 L168.71,1707.85 L168.74,1705.12 L168.77,1702.41 L168.79,1699.70 L168.82,1697.00 L168.85,1694.30 L168.87,1691.62 L168.90,1688.93 L168.93,1686.26 L168.95,1683.59 L168.98,1680.93 L169.01,1678.27 L169.04,1675.63 L169.06,1672.98 L169.09,1670.35 L169.12,1667.72 L169.15,1665.10 L169.18,1662.48 L169.20,1659.87 L169.23,1657.27 L169.26,1654.67 L169.29,1652.08 L169.32,1649.50 L169.35,1646.92 L169.38,1644.35 L169.41,1641.79 L169.44,1639.23 L169.47,1636.68 L169.50,1634.14 L169.53,1631.60 L169.56,1629.07 L169.59,1626.54 L169.62,1624.02 L169.65,1621.51 L169.68,1619.00 L169.71,1616.50 L169.74,1614.01 L169.77,1611.52 L169.80,1609.04 L169.83,1606.56 L169.87,1604.09 L169.90,1601.63 L169.93,1599.17 L169.96,1596.72 L169.99,1594.27 L170.03,1591.83 L170.06,1589.40 L170.09,1586.97 L170.13,1584.55 L170.16,1582.14 L170.19,1579.73 L170.23,1577.32 L170.26,1574.93 L170.29,1572.54 L170.33,1570.15 L170.36,1567.77 L170.40,1565.40 L170.43,1563.03 L170.46,1560.67 L170.50,1558.31 L170.53,1555.97 L170.57,1553.62 L170.60,1551.28 L170.64,1548.95 L170.68,1546.63 L170.71,1544.30 L170.75,1541.99 L170.78,1539.68 L170.82,1537.38 L170.86,1535.08 L170.89,1532.79 L170.93,1530.50 L170.97,1528.22 L171.01,1525.95 L171.04,1523.68 L171.08,1521.42 L171.12,1519.16 L171.16,1516.91 L171.19,1514.66 L171.23,1512.42 L171.27,1510.18 L171.31,1507.95 L171.35,1505.73 L171.39,1503.51 L171.43,1501.30 L171.47,1499.09 L171.51,1496.89 L171.55,1494.69 L171.59,1492.50 L171.63,1490.31 L171.67,1488.13 L171.71,1485.96 L171.75,1483.79 L171.79,1481.63 L171.83,1479.47 L171.88,1477.31 L171.92,1475.17 L171.96,1473.02 L172.00,1470.89 L172.04,1468.75 L172.09,1466.63 L172.13,1464.51 L172.17,1462.39 L172.22,1460.28 L172.26,1458.17 L172.30,1456.07 L172.35,1453.98 L172.39,1451.89 L172.44,1449.80 L172.48,1447.73 L172.53,1445.65 L172.57,1443.58 L172.62,1441.52 L172.66,1439.46 L172.71,1437.41 L172.75,1435.36 L172.80,1433.31 L172.85,1431.28 L172.89,1429.24 L172.94,1427.21 L172.99,1425.19 L173.04,1423.17 L173.08,1421.16 L173.13,1419.15 L173.18,1417.15 L173.23,1415.15 L173.28,1413.16 L173.33,1411.17 L173.37,1409.19 L173.42,1407.21 L173.47,1405.24 L173.52,1403.27 L173.57,1401.30 L173.62,1399.35 L173.67,1397.39 L173.73,1395.44 L173.78,1393.50 L173.83,1391.56 L173.88,1389.63 L173.93,1387.70 L173.98,1385.77 L174.04,1383.85 L174.09,1381.94 L174.14,1380.03 L174.19,1378.12 L174.25,1376.22 L174.30,1374.32 L174.36,1372.43 L174.41,1370.55 L174.46,1368.66 L174.52,1366.79 L174.57,1364.91 L174.63,1363.05 L174.69,1361.18 L174.74,1359.32 L174.80,1357.47 L174.85,1355.62 L174.91,1353.78 L174.97,1351.94 L175.03,1350.10 L175.08,1348.27 L175.14,1346.44 L175.20,1344.62 L175.26,1342.80 L175.32,1340.99 L175.38,1339.18 L175.43,1337.38 L175.49,1335.58 L175.55,1333.78 L175.61,1331.99 L175.68,1330.21 L175.74,1328.43 L175.80,1326.65 L175.86,1324.88 L175.92,1323.11 L175.98,1321.34 L176.05,1319.58 L176.11,1317.83 L176.17,1316.08 L176.23,1314.33 L176.30,1312.59 L176.36,1310.85 L176.43,1309.12 L176.49,1307.39 L176.56,1305.67 L176.62,1303.95 L176.69,1302.23 L176.75,1300.52 L176.82,1298.81 L176.89,1297.11 L176.95,1295.41 L177.02,1293.71 L177.09,1292.02 L177.16,1290.34 L177.22,1288.65 L177.29,1286.98 L177.36,1285.30 L177.43,1283.63 L177.50,1281.97 L177.57,1280.31 L177.64,1278.65 L177.71,1277.00 L177.78,1275.35 L177.85,1273.70 L177.93,1272.06 L178.00,1270.42 L178.07,1268.79 L178.14,1267.16 L178.22,1265.54 L178.29,1263.92 L178.36,1262.30 L178.44,1260.69 L178.51,1259.08 L178.59,1257.48 L178.66,1255.88 L178.74,1254.28 L178.82,1252.69 L178.89,1251.10 L178.97,1249.52 L179.05,1247.94 L179.12,1246.36 L179.20,1244.79 L179.28,1243.22 L179.36,1241.65 L179.44,1240.09 L179.52,1238.53 L179.60,1236.98 L179.68,1235.43 L179.76,1233.89 L179.84,1232.34 L179.92,1230.81 L180.00,1229.27 L180.09,1227.74 L180.17,1226.22 L180.25,1224.69 L180.34,1223.18 L180.42,1221.66 L180.51,1220.15 L180.59,1218.64 L180.68,1217.14 L180.76,1215.64 L180.85,1214.14 L180.94,1212.65 L181.02,1211.16 L181.11,1209.68 L181.20,1208.20 L181.29,1206.72 L181.38,1205.24 L181.47,1203.77 L181.56,1202.31 L181.65,1200.84 L181.74,1199.38 L181.83,1197.93 L181.92,1196.48 L182.01,1195.03 L182.10,1193.58 L182.20,1192.14 L182.29,1190.71 L182.38,1189.27 L182.48,1187.84 L182.57,1186.41 L182.67,1184.99 L182.76,1183.57 L182.86,1182.15 L182.96,1180.74 L183.05,1179.33 L183.15,1177.93 L183.25,1176.52 L183.35,1175.13 L183.45,1173.73 L183.55,1172.34 L183.65,1170.95 L183.75,1169.57 L183.85,1168.18 L183.95,1166.81 L184.06,1165.43 L184.16,1164.06 L184.26,1162.69 L184.36,1161.33 L184.47,1159.97 L184.57,1158.61 L184.68,1157.26 L184.79,1155.91 L184.89,1154.56 L185.00,1153.21 L185.11,1151.87 L185.21,1150.54 L185.32,1149.20 L185.43,1147.87 L185.54,1146.54 L185.65,1145.22 L185.76,1143.90 L185.87,1142.58 L185.99,1141.27 L186.10,1139.96 L186.21,1138.65 L186.32,1137.35 L186.44,1136.04 L186.55,1134.75 L186.67,1133.45 L186.78,1132.16 L186.90,1130.87 L187.02,1129.59 L187.14,1128.31 L187.25,1127.03 L187.37,1125.75 L187.49,1124.48 L187.61,1123.21 L187.73,1121.94 L187.85,1120.68 L187.98,1119.42 L188.10,1118.16 L188.22,1116.91 L188.34,1115.66 L188.47,1114.41 L188.59,1113.17 L188.72,1111.93 L188.85,1110.69 L188.97,1109.46 L189.10,1108.23 L189.23,1107.00 L189.36,1105.77 L189.49,1104.55 L189.61,1103.33 L189.75,1102.11 L189.88,1100.90 L190.01,1099.69 L190.14,1098.48 L190.27,1097.28 L190.41,1096.08 L190.54,1094.88 L190.68,1093.68 L190.81,1092.49 L190.95,1091.30 L191.09,1090.11 L191.23,1088.93 L191.36,1087.75 L191.50,1086.57 L191.64,1085.40 L191.78,1084.23 L191.93,1083.06 L192.07,1081.89 L192.21,1080.73 L192.35,1079.57 L192.50,1078.41 L192.64,1077.26 L192.79,1076.11 L192.94,1074.96 L193.08,1073.81 L193.23,1072.67 L193.38,1071.53 L193.53,1070.39 L193.68,1069.26 L193.83,1068.12 L193.98,1067.00 L194.13,1065.87 L194.29,1064.75 L194.44,1063.63 L194.60,1062.51 L194.75,1061.39 L194.91,1060.28 L195.06,1059.17 L195.22,1058.07 L195.38,1056.96 L195.54,1055.86 L195.70,1054.76 L195.86,1053.67 L196.02,1052.58 L196.19,1051.49 L196.35,1050.40 L196.51,1049.31 L196.68,1048.23 L196.84,1047.15 L197.01,1046.08 L197.18,1045.00 L197.35,1043.93 L197.52,1042.86 L197.69,1041.80 L197.86,1040.73 L198.03,1039.67 L198.20,1038.62 L198.38,1037.56 L198.55,1036.51 L198.73,1035.46 L198.90,1034.41 L199.08,1033.37 L199.26,1032.32 L199.43,1031.28 L199.61,1030.25 L199.80,1029.21 L199.98,1028.18 L200.16,1027.15 L200.34,1026.13 L200.53,1025.10 L200.71,1024.08 L200.90,1023.06 L201.08,1022.04 L201.27,1021.03 L201.46,1020.02 L201.65,1019.01 L201.84,1018.00 L202.03,1017.00 L202.23,1016.00 L202.42,1015.00 L202.61,1014.00 L202.81,1013.01 L203.01,1012.02 L203.20,1011.03 L203.40,1010.04 L203.60,1009.06 L203.80,1008.08 L204.00,1007.10 L204.21,1006.12 L204.41,1005.15 L204.62,1004.17 L204.82,1003.20 L205.03,1002.24 L205.23,1001.27 L205.44,1000.31 L205.65,999.35 L205.86,998.39 L206.08,997.44 L206.29,996.49 L206.50,995.54 L206.72,994.59 L206.93,993.64 L207.15,992.70 L207.37,991.76 L207.59,990.82 L207.81,989.88 L208.03,988.95 L208.25,988.02 L208.48,987.09 L208.70,986.16 L208.93,985.24 L209.15,984.32 L209.38,983.40 L209.61,982.48 L209.84,981.56 L210.07,980.65 L210.31,979.74 L210.54,978.83 L210.78,977.92 L211.01,977.02 L211.25,976.12 L211.49,975.22 L211.73,974.32 L211.97,973.43 L212.21,972.53 L212.46,971.64 L212.70,970.75 L212.95,969.87 L213.19,968.98 L213.44,968.10 L213.69,967.22 L213.94,966.34 L214.20,965.47 L214.45,964.60 L214.70,963.73 L214.96,962.86 L215.22,961.99 L215.48,961.13 L215.74,960.26 L216.00,959.40 L216.26,958.55 L216.52,957.69 L216.79,956.84 L217.06,955.98 L217.32,955.14 L217.59,954.29 L217.86,953.44 L218.13,952.60 L218.41,951.76 L218.68,950.92 L218.96,950.08 L219.24,949.25 L219.51,948.42 L219.79,947.58 L220.08,946.76 L220.36,945.93 L220.64,945.11 L220.93,944.28 L221.22,943.46 L221.50,942.64 L221.79,941.83 L222.09,941.01 L222.38,940.20 L222.67,939.39 L222.97,938.58 L223.27,937.78 L223.56,936.97 L223.87,936.17 L224.17,935.37 L224.47,934.57 L224.78,933.78 L225.08,932.98 L225.39,932.19 L225.70,931.40 L226.01,930.61 L226.32,929.83 L226.64,929.04 L226.95,928.26 L227.27,927.48 L227.59,926.70 L227.91,925.92 L228.23,925.15 L228.55,924.38 L228.88,923.61 L229.21,922.84 L229.54,922.07 L229.87,921.31 L230.20,920.54 L230.53,919.78 L230.87,919.02 L231.20,918.27 L231.54,917.51 L231.88,916.76 L232.22,916.00 L232.57,915.26 L232.91,914.51 L233.26,913.76 L233.61,913.02 L233.96,912.27 L234.31,911.53 L234.67,910.80 L235.02,910.06 L235.38,909.32 L235.74,908.59 L236.10,907.86 L236.46,907.13 L236.83,906.40 L237.19,905.68 L237.56,904.95 L237.93,904.23 L238.30,903.51 L238.68,902.79 L239.05,902.07 L239.43,901.36 L239.81,900.64 L240.19,899.93 L240.58,899.22 L240.96,898.51 L241.35,897.81 L241.74,897.10 L242.13,896.40 L242.52,895.70 L242.92,895.00 L243.32,894.30 L243.71,893.61 L244.12,892.91 L244.52,892.22 L244.92,891.53 L245.33,890.84 L245.74,890.15 L246.15,889.47 L246.56,888.79 L246.98,888.10 L247.40,887.42 L247.82,886.74 L248.24,886.07 L248.66,885.39 L249.09,884.72 L249.52,884.05 L249.95,883.38 L250.38,882.71 L250.81,882.04 L251.25,881.38 L251.69,880.71 L252.13,880.05 L252.57,879.39 L253.02,878.73 L253.46,878.07 L253.91,877.42 L254.37,876.77 L254.82,876.11 L255.28,875.46 L255.74,874.81 L256.20,874.17 L256.66,873.52 L257.13,872.88 L257.60,872.23 L258.07,871.59 L258.54,870.95 L259.01,870.32 L259.49,869.68 L259.97,869.05 L260.45,868.41 L260.94,867.78 L261.43,867.15 L261.92,866.52 L262.41,865.90 L262.90,865.27 L263.40,864.65 L263.90,864.03 L264.40,863.41 L264.90,862.79 L265.41,862.17 L265.92,861.55 L266.43,860.94 L266.95,860.33 L267.47,859.72 L267.99,859.11 L268.51,858.50 L269.03,857.89 L269.56,857.29 L270.09,856.68 L270.62,856.08 L271.16,855.48 L271.70,854.88 L272.24,854.28 L272.78,853.69 L273.33,853.09 L273.88,852.50 L274.43,851.91 L274.98,851.32 L275.54,850.73 L276.10,850.14 L276.66,849.56 L277.23,848.97 L277.80,848.39 L278.37,847.81 L278.95,847.23 L279.52,846.65 L280.10,846.07 L280.69,845.50 L281.27,844.92 L281.86,844.35 L282.45,843.78 L283.05,843.21 L283.64,842.64 L284.25,842.07 L284.85,841.51 L285.46,840.94 L286.07,840.38 L286.68,839.82 L287.29,839.26 L287.91,838.70 L288.54,838.14 L289.16,837.59 L289.79,837.03 L290.42,836.48 L291.05,835.93 L291.69,835.38 L292.33,834.83 L292.98,834.28 L293.63,833.73 L294.28,833.19 L294.93,832.64 L295.59,832.10 L296.25,831.56 L296.91,831.02 L297.58,830.48 L298.25,829.95 L298.92,829.41 L299.60,828.88 L300.28,828.34 L300.96,827.81 L301.65,827.28 L302.34,826.75 L303.04,826.23 L303.73,825.70 L304.43,825.18 L305.14,824.65 L305.85,824.13 L306.56,823.61 L307.27,823.09 L307.99,822.57 L308.72,822.05 L309.44,821.54 L310.17,821.02 L310.91,820.51 L311.64,820.00 L312.38,819.49 L313.13,818.98 L313.88,818.47 L314.63,817.96 L315.38,817.46 L316.14,816.95 L316.91,816.45 L317.67,815.95 L318.44,815.45 L319.22,814.95 L320.00,814.45 L320.78,813.95 L321.57,813.46 L322.36,812.96 L323.15,812.47 L323.95,811.98 L324.75,811.49 L325.56,811.00 L326.37,810.51 L327.18,810.02 L328.00,809.54 L328.82,809.05 L329.65,808.57 L330.48,808.09 L331.31,807.60 L332.15,807.12 L333.00,806.65 L333.84,806.17 L334.70,805.69 L335.55,805.22 L336.41,804.74 L337.28,804.27 L338.15,803.80 L339.02,803.33 L339.90,802.86 L340.78,802.39 L341.67,801.92 L342.56,801.46 L343.45,800.99 L344.35,800.53 L345.26,800.07 L346.16,799.61 L347.08,799.15 L348.00,798.69 L348.92,798.23 L349.84,797.77 L350.78,797.32 L351.71,796.86 L352.65,796.41 L353.60,795.96 L354.55,795.51 L355.51,795.06 L356.47,794.61 L357.43,794.16 L358.40,793.72 L359.37,793.27 L360.35,792.83 L361.34,792.38 L362.33,791.94 L363.32,791.50 L364.32,791.06 L365.32,790.62 L366.33,790.19 L367.35,789.75 L368.37,789.31 L369.39,788.88 L370.42,788.45 L371.46,788.01 L372.50,787.58 L373.54,787.15 L374.59,786.72 L375.65,786.30 L376.71,785.87 L377.77,785.44 L378.84,785.02 L379.92,784.60 L381.00,784.17 L382.09,783.75 L383.18,783.33 L384.28,782.91 L385.39,782.49 L386.50,782.08 L387.61,781.66 L388.73,781.24 L389.86,780.83 L390.99,780.42 L392.13,780.00 L393.27,779.59 L394.42,779.18 L395.57,778.77 L396.73,778.37 L397.90,777.96 L399.07,777.55 L400.25,777.15 L401.43,776.74 L402.62,776.34 L403.82,775.94 L405.02,775.54 L406.23,775.14 L407.44,774.74 L408.66,774.34 L409.89,773.94 L411.12,773.55 L412.36,773.15 L413.60,772.76 L414.85,772.37 L416.11,771.97 L417.37,771.58 L418.64,771.19 L419.92,770.80 L421.20,770.42 L422.49,770.03 L423.78,769.64 L425.08,769.26 L426.39,768.87 L427.71,768.49 L429.03,768.11 L430.35,767.73 L431.69,767.34 L433.03,766.97 L434.38,766.59 L435.73,766.21 L437.09,765.83 L438.46,765.46 L439.84,765.08 L441.22,764.71 L442.61,764.33 L444.00,763.96 L445.40,763.59 L446.81,763.22 L448.23,762.85 L449.65,762.48 L451.08,762.12 L452.52,761.75 L453.97,761.38 L455.42,761.02 L456.88,760.66 L458.35,760.29 L459.82,759.93 L461.30,759.57 L462.79,759.21 L464.29,758.85 L465.79,758.49 L467.30,758.13 L468.82,757.78 L470.35,757.42 L471.88,757.07 L473.42,756.71 L474.97,756.36 L476.53,756.01 L478.10,755.66 L479.67,755.31 L481.25,754.96 L482.84,754.61 L484.44,754.26 L486.04,753.91 L487.65,753.57 L489.27,753.22 L490.90,752.88 L492.54,752.53 L494.18,752.19 L495.84,751.85 L497.50,751.51 L499.17,751.17 L500.85,750.83 L502.54,750.49 L504.23,750.15 L505.93,749.81 L507.65,749.48 L509.37,749.14 L511.10,748.81 L512.83,748.48 L514.58,748.14 L516.34,747.81 L518.10,747.48 L519.87,747.15 L521.66,746.82 L523.45,746.49 L525.25,746.17 L527.05,745.84 L528.87,745.51 L530.70,745.19 L532.54,744.86 L534.38,744.54 L536.23,744.22 L538.10,743.89 L539.97,743.57 L541.85,743.25 L543.75,742.93 L545.65,742.61 L547.56,742.30 L549.48,741.98 L551.41,741.66 L553.35,741.35 L555.30,741.03 L557.26,740.72 L559.22,740.41 L561.20,740.09 L563.19,739.78 L565.19,739.47 L567.20,739.16 L569.22,738.85 L571.25,738.54 L573.28,738.23 L575.33,737.93 L577.39,737.62 L579.46,737.32 L581.54,737.01 L583.63,736.71 L585.73,736.40 L587.84,736.10 L589.97,735.80 L592.10,735.50 L594.24,735.20 L596.39,734.90 L598.56,734.60 L600.73,734.30 L602.92,734.00 L605.12,733.71 L607.33,733.41 L609.54,733.12 L611.77,732.82 L614.02,732.53 L616.27,732.24 L618.53,731.94 L620.81,731.65 L623.09,731.36 L625.39,731.07 L627.70,730.78 L630.02,730.49 L632.36,730.21 L634.70,729.92 L637.06,729.63 L639.42,729.35 L641.80,729.06 L644.19,728.78 L646.60,728.49 L649.01,728.21 L651.44,727.93 L653.88,727.65 L656.33,727.37 L658.80,727.09 L661.27,726.81 L663.76,726.53 L666.26,726.25 L668.78,725.97 L671.30,725.70 L673.84,725.42 L676.39,725.15 L678.96,724.87 L681.54,724.60 L684.13,724.33 L686.73,724.05 L689.35,723.78 L691.97,723.51 L694.62,723.24 L697.27,722.97 L699.94,722.70 L702.61,722.43 L705.29,722.17 L707.96,721.90 L710.63,721.64 L713.30,721.38 L715.98,721.13 L718.65,720.87 L721.32,720.62 L723.99,720.36 L726.67,720.11 L729.34,719.86 L732.01,719.62 L734.68,719.37 L737.36,719.13 L740.03,718.89 L742.70,718.65 L745.37,718.41 L748.05,718.17 L750.72,717.94 L753.39,717.70 L756.06,717.47 L758.74,717.24 L761.41,717.01 L764.08,716.78 L766.75,716.56 L769.43,716.33 L772.10,716.11 L774.77,715.89 L777.44,715.67 L780.12,715.45 L782.79,715.23 L785.46,715.02 L788.13,714.80 L790.81,714.59 L793.48,714.38 L796.15,714.17 L798.82,713.96 L801.50,713.75 L804.17,713.55 L806.84,713.34 L809.51,713.14 L812.19,712.94 L814.86,712.73 L817.53,712.53 L820.20,712.34 L822.88,712.14 L825.55,711.94 L828.22,711.75 L830.89,711.55 L833.57,711.36 L836.24,711.17 L838.91,710.98 L841.58,710.79 L844.26,710.60 L846.93,710.41 L849.60,710.23 L852.27,710.04 L854.95,709.86 L857.62,709.67 L860.29,709.49 L862.96,709.31 L865.64,709.13 L868.31,708.95 L870.98,708.78 L873.65,708.60 L876.33,708.42 L879.00,708.25 L881.67,708.07 L884.34,707.90 L887.02,707.73 L889.69,707.56 L892.36,707.39 L895.03,707.22 L897.71,707.05 L900.38,706.88 L903.05,706.72 L905.72,706.55 L908.40,706.39 L911.07,706.23 L913.74,706.06 L916.41,705.90 L919.09,705.74 L921.76,705.58 L924.43,705.42 L927.10,705.26 L929.78,705.10 L932.45,704.95 L935.12,704.79 L937.79,704.64 L940.47,704.48 L943.14,704.33 L945.81,704.18 L948.48,704.02 L951.16,703.87 L953.83,703.72 L956.50,703.57 L959.17,703.42 L961.85,703.27 L964.52,703.13 L967.19,702.98 L969.86,702.83 L972.54,702.69 L975.21,702.54 L977.88,702.40 L980.55,702.26 L983.23,702.12 L985.90,701.97 L988.57,701.83 L991.24,701.69 L993.92,701.55 L996.59,701.41 L999.26,701.27 L1001.93,701.14 L1004.61,701.00 L1007.28,700.86 L1009.95,700.73 L1012.62,700.59 L1015.30,700.46 L1017.97,700.32 L1020.64,700.19 L1023.31,700.06 L1025.99,699.93 L1028.66,699.80 L1031.33,699.66 L1034.00,699.53 L1036.68,699.40 L1039.35,699.28 L1042.02,699.15 L1044.69,699.02 L1047.37,698.89 L1050.04,698.77 L1052.71,698.64 L1055.38,698.51 L1058.06,698.39 L1060.73,698.27 L1063.40,698.14 L1066.07,698.02 L1068.75,697.90 L1071.42,697.77 L1074.09,697.65 L1076.76,697.53 L1079.44,697.41 L1082.11,697.29 L1084.78,697.17 L1087.45,697.05 L1090.13,696.93 L1092.80,696.81 L1095.47,696.70 L1098.14,696.58 L1100.82,696.46 L1103.49,696.35 L1106.16,696.23 L1108.83,696.12 L1111.51,696.00 L1114.18,695.89 L1116.85,695.78 L1119.52,695.66 L1122.20,695.55 L1124.87,695.44 L1127.54,695.33 L1130.21,695.21 L1132.89,695.10 L1135.56,694.99 L1138.23,694.88 L1140.90,694.77 L1143.58,694.67 L1146.25,694.56 L1148.92,694.45 L1151.59,694.34 L1154.27,694.23 L1156.94,694.13 L1159.61,694.02 L1162.28,693.92 L1164.96,693.81 L1167.63,693.71 L1170.30,693.60 L1172.97,693.50 L1175.65,693.39 L1178.32,693.29 L1180.99,693.19 L1183.67,693.08 L1186.34,692.98 L1189.01,692.88 L1191.68,692.78 L1194.36,692.68 L1197.03,692.58 L1199.70,692.48 L1202.37,692.38 L1205.05,692.28 L1207.72,692.18 L1210.39,692.08 L1213.06,691.98 L1215.74,691.88 L1218.41,691.79 L1221.08,691.69 L1223.75,691.59 L1226.43,691.50 L1229.10,691.40 L1231.77,691.30 L1234.44,691.21 L1237.12,691.11 L1239.79,691.02 L1242.46,690.92 L1245.13,690.83 L1247.81,690.74 L1250.48,690.64 L1253.15,690.55 L1255.82,690.46 L1258.50,690.37 L1261.17,690.27 L1263.84,690.18 L1266.51,690.09 L1269.19,690.00 L1271.86,689.91 L1272.77,689.88"/>
<path class="fx" d="M170.83,65.80 L170.86,66.81 L170.88,67.81 L170.91,68.80 L170.94,69.79 L170.97,70.78 L170.99,71.76 L171.02,72.73 L171.05,73.70 M171.27,81.70 L171.31,82.76 L171.34,83.81 L171.37,84.86 L171.40,85.90 L171.43,86.93 L171.46,87.96 L171.49,88.98 L171.52,90.00 M171.77,98.00 L171.80,98.99 L171.84,99.98 L171.87,100.97 L171.90,101.94 L171.93,102.92 L171.96,103.88 L172.00,104.84 L172.03,105.80 M172.32,114.20 L172.35,115.20 L172.39,116.18 L172.42,117.17 L172.46,118.15 L172.49,119.12 L172.53,120.08 L172.56,121.04 L172.60,122.00 M172.90,130.00 L172.94,131.00 L172.98,131.99 L173.02,132.97 L173.06,133.95 L173.09,134.92 L173.13,135.89 L173.17,136.85 L173.21,137.80 M173.54,145.80 L173.59,146.81 L173.63,147.81 L173.67,148.81 L173.72,149.80 L173.76,150.78 L173.80,151.76 L173.85,152.73 L173.89,153.70 M174.28,162.00 L174.32,163.02 L174.37,164.04 L174.42,165.05 L174.47,166.05 L174.52,167.05 L174.57,168.04 L174.62,169.02 L174.67,170.00 M175.08,178.00 L175.13,179.00 L175.19,179.99 L175.24,180.97 L175.29,181.95 L175.34,182.92 L175.40,183.89 L175.45,184.85 L175.50,185.80 M175.99,194.20 L176.05,195.20 L176.11,196.19 L176.17,197.18 L176.23,198.15 L176.29,199.13 L176.35,200.09 L176.40,201.05 L176.46,202.00 M176.98,210.00 L177.05,210.96 L177.11,211.91 L177.17,212.86 L177.24,213.80 L177.30,214.74 L177.37,215.66 L177.43,216.59 L177.50,217.50 M178.04,225.00 L178.12,226.03 L178.19,227.05 L178.27,228.06 L178.35,229.06 L178.42,230.06 L178.50,231.05 L178.58,232.03 L178.65,233.00 M179.29,240.80 L179.38,241.88 L179.48,242.95 L179.57,244.02 L179.66,245.07 L179.75,246.12 L179.84,247.15 L179.93,248.18 L180.03,249.20 M180.75,257.00 L180.84,257.92 L180.93,258.84 L181.02,259.75 L181.11,260.65 L181.20,261.55 L181.29,262.44 L181.38,263.32 L181.47,264.20 M182.17,270.80 L182.27,271.76 L182.38,272.72 L182.48,273.67 L182.59,274.61 L182.69,275.55 L182.80,276.47 L182.90,277.39 L183.01,278.30 M183.81,285.00 L183.98,286.41 L184.16,287.80 L184.33,289.18 L184.51,290.53 L184.68,291.88 L184.86,293.20 L185.03,294.51 L185.21,295.80 M185.79,300.00 L185.97,301.30 L186.16,302.59 L186.34,303.86 L186.53,305.12 L186.72,306.36 L186.90,307.59 L187.09,308.80 L187.27,310.00 M188.07,315.00 L188.23,315.97 L188.39,316.93 L188.55,317.88 L188.71,318.82 L188.87,319.75 L189.03,320.68 L189.19,321.59 L189.35,322.50 M190.73,330.00 L190.94,331.08 L191.14,332.14 L191.35,333.20 L191.56,334.24 L191.76,335.27 L191.97,336.29 L192.18,337.30 L192.39,338.30 M193.66,344.20 L193.90,345.28 L194.14,346.35 L194.39,347.40 L194.63,348.45 L194.87,349.48 L195.11,350.50 L195.35,351.50 L195.60,352.50 M196.86,357.50 L197.01,358.10 L197.17,358.70 L197.33,359.29 L197.48,359.88 L197.64,360.47 L197.79,361.05 L197.95,361.63 L198.11,362.20 M200.11,369.20 L200.32,369.91 L200.53,370.61 L200.74,371.31 L200.96,372.00 L201.17,372.68 L201.38,373.36 L201.59,374.03 L201.80,374.70 M204.14,381.70 L204.38,382.41 L204.63,383.11 L204.88,383.81 L205.13,384.50 L205.38,385.18 L205.63,385.86 L205.87,386.53 L206.12,387.20 M208.54,393.40 L208.79,394.00 L209.04,394.60 L209.28,395.20 L209.53,395.79 L209.78,396.37 L210.02,396.95 L210.27,397.53 L210.52,398.10 M213.37,404.40 L213.70,405.10 L214.04,405.79 L214.37,406.47 L214.70,407.15 L215.03,407.82 L215.37,408.49 L215.70,409.15 L216.03,409.80 M218.97,415.30 L219.30,415.91 L219.64,416.51 L219.98,417.10 L220.32,417.69 L220.66,418.28 L221.00,418.86 L221.33,419.43 L221.67,420.00 M225.10,425.50 L225.50,426.11 L225.89,426.71 L226.29,427.30 L226.69,427.89 L227.08,428.48 L227.48,429.06 L227.88,429.63 L228.27,430.20 M230.80,433.70 L231.39,434.49 L231.98,435.26 L232.56,436.03 L233.15,436.79 L233.74,437.53 L234.32,438.27 L234.91,439.00 L235.50,439.72 M239.40,444.28 L239.89,444.82 L240.38,445.36 L240.86,445.90 L241.35,446.43 L241.84,446.95 L242.33,447.47 L242.81,447.99 L243.30,448.50 M246.40,451.64 L246.99,452.22 L247.57,452.79 L248.16,453.35 L248.75,453.91 L249.34,454.46 L249.93,455.01 L250.51,455.55 L251.10,456.08 M255.00,459.51 L255.59,460.00 L256.18,460.49 L256.76,460.98 L257.35,461.46 L257.94,461.94 L258.52,462.42 L259.11,462.89 L259.70,463.35 M264.40,466.92 L264.99,467.35 L265.57,467.78 L266.16,468.20 L266.75,468.62 L267.34,469.03 L267.93,469.44 L268.51,469.85 L269.10,470.26 M273.80,473.37 L274.38,473.74 L274.95,474.10 L275.52,474.47 L276.10,474.82 L276.67,475.18 L277.25,475.53 L277.82,475.89 L278.40,476.23 M283.10,478.99 L283.79,479.38 L284.48,479.76 L285.16,480.14 L285.85,480.52 L286.54,480.90 L287.23,481.27 L287.91,481.64 L288.60,482.01 M294.10,484.84 L294.78,485.17 L295.45,485.51 L296.12,485.84 L296.80,486.16 L297.48,486.49 L298.15,486.81 L298.83,487.13 L299.50,487.45 M305.00,489.95 L305.75,490.28 L306.50,490.61 L307.25,490.93 L308.00,491.25 L308.75,491.57 L309.50,491.89 L310.25,492.21 L311.00,492.52 M316.10,494.58 L316.91,494.90 L317.73,495.22 L318.54,495.53 L319.35,495.84 L320.16,496.15 L320.98,496.46 L321.79,496.76 L322.60,497.07 M328.00,499.02 L328.74,499.28 L329.48,499.53 L330.21,499.79 L330.95,500.04 L331.69,500.30 L332.42,500.55 L333.16,500.79 L333.90,501.04 M339.90,503.00 L340.76,503.27 L341.62,503.54 L342.49,503.81 L343.35,504.07 L344.21,504.34 L345.07,504.60 L345.94,504.86 L346.80,505.12 M352.10,506.68 L352.95,506.92 L353.80,507.16 L354.65,507.40 L355.50,507.64 L356.35,507.88 L357.20,508.11 L358.05,508.35 L358.90,508.58 M364.90,510.17 L365.76,510.40 L366.62,510.62 L367.49,510.84 L368.35,511.06 L369.21,511.28 L370.08,511.49 L370.94,511.71 L371.80,511.92 M378.00,513.42 L378.85,513.62 L379.70,513.82 L380.55,514.02 L381.40,514.22 L382.25,514.41 L383.10,514.61 L383.95,514.80 L384.80,515.00 M391.10,516.39 L392.06,516.60 L393.03,516.80 L393.99,517.01 L394.95,517.21 L395.91,517.41 L396.88,517.62 L397.84,517.82 L398.80,518.01 M404.80,519.23 L405.69,519.40 L406.58,519.58 L407.46,519.75 L408.35,519.92 L409.24,520.10 L410.12,520.27 L411.01,520.44 L411.90,520.61 M417.90,521.72 L418.76,521.88 L419.62,522.04 L420.49,522.19 L421.35,522.35 L422.21,522.50 L423.07,522.66 L423.94,522.81 L424.80,522.96 M431.90,524.19 L432.75,524.33 L433.60,524.47 L434.45,524.62 L435.30,524.76 L436.15,524.90 L437.00,525.04 L437.85,525.18 L438.70,525.32 M446.20,526.51 L447.01,526.64 L447.82,526.77 L448.64,526.89 L449.45,527.02 L450.26,527.14 L451.07,527.27 L451.89,527.39 L452.70,527.51 M460.10,528.61 L460.95,528.73 L461.80,528.86 L462.65,528.98 L463.50,529.10 L464.35,529.22 L465.20,529.34 L466.05,529.46 L466.90,529.58 M474.40,530.62 L475.22,530.73 L476.05,530.84 L476.88,530.95 L477.70,531.06 L478.53,531.17 L479.35,531.28 L480.18,531.39 L481.00,531.50 M488.10,532.42 L488.95,532.53 L489.80,532.63 L490.65,532.74 L491.50,532.85 L492.35,532.95 L493.20,533.06 L494.05,533.16 L494.90,533.27 M502.40,534.18 L503.19,534.27 L503.98,534.36 L504.76,534.46 L505.55,534.55 L506.34,534.64 L507.12,534.73 L507.91,534.83 L508.70,534.92 M516.10,535.76 L517.04,535.87 L517.98,535.97 L518.91,536.08 L519.85,536.18 L520.79,536.28 L521.73,536.39 L522.66,536.49 L523.60,536.59 M531.30,537.42 L532.12,537.50 L532.95,537.59 L533.77,537.68 L534.60,537.76 L535.42,537.85 L536.25,537.93 L537.07,538.02 L537.90,538.10 M545.20,538.84 L546.12,538.93 L547.05,539.02 L547.98,539.12 L548.90,539.21 L549.83,539.30 L550.75,539.39 L551.67,539.48 L552.60,539.57 M560.10,540.28 L560.92,540.36 L561.75,540.44 L562.58,540.52 L563.40,540.59 L564.23,540.67 L565.05,540.75 L565.88,540.82 L566.70,540.90 M575.00,541.65 L575.81,541.72 L576.62,541.79 L577.44,541.86 L578.25,541.94 L579.06,542.01 L579.88,542.08 L580.69,542.15 L581.50,542.22 M589.30,542.89 L590.19,542.96 L591.07,543.04 L591.96,543.11 L592.85,543.19 L593.74,543.26 L594.62,543.34 L595.51,543.41 L596.40,543.48 M604.30,544.13 L605.22,544.20 L606.15,544.27 L607.08,544.35 L608.00,544.42 L608.92,544.49 L609.85,544.57 L610.78,544.64 L611.70,544.71 M619.40,545.31 L620.34,545.38 L621.27,545.45 L622.21,545.52 L623.15,545.59 L624.09,545.66 L625.03,545.73 L625.96,545.80 L626.90,545.87 M634.30,546.42 L635.11,546.48 L635.92,546.54 L636.74,546.60 L637.55,546.65 L638.36,546.71 L639.17,546.77 L639.99,546.83 L640.80,546.89 M649.20,547.48 L650.01,547.53 L650.83,547.59 L651.64,547.65 L652.45,547.70 L653.26,547.76 L654.08,547.81 L654.89,547.87 L655.70,547.93 M664.30,548.50 L665.09,548.56 L665.88,548.61 L666.66,548.66 L667.45,548.71 L668.24,548.76 L669.03,548.81 L669.81,548.87 L670.60,548.92 M679.20,549.47 L680.06,549.52 L680.93,549.58 L681.79,549.63 L682.65,549.69 L683.51,549.74 L684.38,549.80 L685.24,549.85 L686.10,549.90 M694.20,550.40 L695.15,550.46 L696.10,550.52 L697.05,550.57 L698.00,550.63 L698.95,550.69 L699.90,550.75 L700.85,550.80 L701.80,550.86 M709.30,551.30 L710.19,551.35 L711.07,551.40 L711.96,551.46 L712.85,551.51 L713.74,551.56 L714.62,551.61 L715.51,551.66 L716.40,551.71 M724.20,552.15 L725.16,552.21 L726.12,552.26 L727.09,552.31 L728.05,552.37 L729.01,552.42 L729.98,552.47 L730.94,552.53 L731.90,552.58 M739.00,552.97 L739.90,553.01 L740.80,553.06 L741.70,553.11 L742.60,553.16 L743.50,553.21 L744.40,553.25 L745.30,553.30 L746.20,553.35 M754.40,553.78 L755.30,553.82 L756.20,553.87 L757.10,553.92 L758.00,553.96 L758.90,554.01 L759.80,554.06 L760.70,554.10 L761.60,554.15 M770.00,554.57 L770.86,554.61 L771.73,554.66 L772.59,554.70 L773.45,554.74 L774.31,554.78 L775.17,554.83 L776.04,554.87 L776.90,554.91 M785.00,555.30 L785.96,555.35 L786.92,555.39 L787.89,555.44 L788.85,555.49 L789.81,555.53 L790.78,555.58 L791.74,555.62 L792.70,555.67 M800.10,556.01 L801.08,556.06 L802.05,556.10 L803.02,556.15 L804.00,556.19 L804.98,556.24 L805.95,556.28 L806.92,556.33 L807.90,556.37 M816.20,556.75 L817.01,556.78 L817.83,556.82 L818.64,556.85 L819.45,556.89 L820.26,556.93 L821.08,556.96 L821.89,557.00 L822.70,557.03 M831.10,557.40 L832.06,557.44 L833.03,557.48 L833.99,557.52 L834.95,557.56 L835.91,557.61 L836.88,557.65 L837.84,557.69 L838.80,557.73 M846.00,558.03 L846.96,558.07 L847.92,558.11 L848.89,558.15 L849.85,558.19 L850.81,558.23 L851.78,558.27 L852.74,558.31 L853.70,558.35 M862.00,558.69 L862.85,558.72 L863.70,558.75 L864.55,558.79 L865.40,558.82 L866.25,558.86 L867.10,558.89 L867.95,558.92 L868.80,558.96 M876.90,559.28 L877.90,559.32 L878.90,559.35 L879.90,559.39 L880.90,559.43 L881.90,559.47 L882.90,559.51 L883.90,559.55 L884.90,559.59 M892.00,559.86 L892.95,559.89 L893.90,559.93 L894.85,559.96 L895.80,560.00 L896.75,560.04 L897.70,560.07 L898.65,560.11 L899.60,560.14 M908.00,560.45 L909.00,560.49 L910.00,560.52 L911.00,560.56 L912.00,560.60 L913.00,560.63 L914.00,560.67 L915.00,560.71 L916.00,560.74 M923.10,561.00 L924.09,561.03 L925.08,561.07 L926.06,561.10 L927.05,561.14 L928.04,561.17 L929.02,561.21 L930.01,561.24 L931.00,561.27 M938.90,561.55 L939.90,561.58 L940.90,561.62 L941.90,561.65 L942.90,561.69 L943.90,561.72 L944.90,561.75 L945.90,561.79 L946.90,561.82 M954.00,562.06 L954.99,562.09 L955.98,562.13 L956.96,562.16 L957.95,562.19 L958.94,562.23 L959.93,562.26 L960.91,562.29 L961.90,562.32 M969.90,562.58 L970.86,562.62 L971.83,562.65 L972.79,562.68 L973.75,562.71 L974.71,562.74 L975.67,562.77 L976.64,562.80 L977.60,562.83 M985.00,563.07 L985.99,563.10 L986.98,563.13 L987.96,563.16 L988.95,563.19 L989.94,563.22 L990.93,563.25 L991.91,563.29 L992.90,563.32 M1001.10,563.57 L1002.08,563.60 L1003.05,563.63 L1004.03,563.66 L1005.00,563.69 L1005.98,563.72 L1006.95,563.75 L1007.92,563.78 L1008.90,563.81 M1016.00,564.02 L1016.98,564.05 L1017.95,564.08 L1018.93,564.11 L1019.90,564.14 L1020.87,564.17 L1021.85,564.19 L1022.82,564.22 L1023.80,564.25 M1031.90,564.49 L1032.86,564.52 L1033.83,564.54 L1034.79,564.57 L1035.75,564.60 L1036.71,564.63 L1037.67,564.66 L1038.64,564.68 L1039.60,564.71 M1047.10,564.92 L1048.07,564.95 L1049.05,564.98 L1050.03,565.01 L1051.00,565.03 L1051.97,565.06 L1052.95,565.09 L1053.92,565.12 L1054.90,565.14 M1063.10,565.37 L1064.09,565.40 L1065.07,565.43 L1066.06,565.45 L1067.05,565.48 L1068.04,565.51 L1069.03,565.53 L1070.01,565.56 L1071.00,565.59 M1079.20,565.81 L1080.14,565.83 L1081.08,565.86 L1082.01,565.88 L1082.95,565.91 L1083.89,565.93 L1084.83,565.96 L1085.76,565.98 L1086.70,566.01 M1093.80,566.20 L1094.81,566.22 L1095.82,566.25 L1096.84,566.28 L1097.85,566.30 L1098.86,566.33 L1099.88,566.35 L1100.89,566.38 L1101.90,566.41 M1110.10,566.62 L1111.07,566.64 L1112.05,566.67 L1113.02,566.69 L1114.00,566.72 L1114.98,566.74 L1115.95,566.77 L1116.93,566.79 L1117.90,566.82 M1125.00,566.99 L1125.99,567.02 L1126.97,567.04 L1127.96,567.07 L1128.95,567.09 L1129.94,567.12 L1130.92,567.14 L1131.91,567.17 L1132.90,567.19 M1141.10,567.39 L1142.06,567.41 L1143.03,567.44 L1143.99,567.46 L1144.95,567.48 L1145.91,567.51 L1146.88,567.53 L1147.84,567.55 L1148.80,567.58 M1157.10,567.77 L1157.96,567.79 L1158.82,567.82 L1159.69,567.84 L1160.55,567.86 L1161.41,567.88 L1162.28,567.90 L1163.14,567.92 L1164.00,567.94 M1172.10,568.13 L1173.09,568.15 L1174.07,568.17 L1175.06,568.20 L1176.05,568.22 L1177.04,568.24 L1178.03,568.26 L1179.01,568.29 L1180.00,568.31 M1188.40,568.50 L1189.34,568.52 L1190.28,568.54 L1191.21,568.56 L1192.15,568.59 L1193.09,568.61 L1194.03,568.63 L1194.96,568.65 L1195.90,568.67 M1203.40,568.84 L1204.34,568.86 L1205.28,568.88 L1206.21,568.90 L1207.15,568.92 L1208.09,568.94 L1209.03,568.96 L1209.96,568.98 L1210.90,569.00 M1219.40,569.19 L1220.34,569.21 L1221.28,569.23 L1222.21,569.25 L1223.15,569.27 L1224.09,569.29 L1225.03,569.31 L1225.96,569.33 L1226.90,569.35 M1235.30,569.53 L1236.24,569.55 L1237.17,569.57 L1238.11,569.59 L1239.05,569.61 L1239.99,569.63 L1240.92,569.65 L1241.86,569.67 L1242.80,569.69 M1250.30,569.84 L1251.24,569.86 L1252.17,569.88 L1253.11,569.90 L1254.05,569.92 L1254.99,569.94 L1255.92,569.96 L1256.86,569.98 L1257.80,570.00 M1266.30,570.17 L1267.11,570.19 L1267.92,570.20 L1268.74,570.22 L1269.55,570.24 L1270.36,570.25 L1271.17,570.27 L1271.99,570.29 L1272.80,570.30"/>
<path class="fx" d="M196.57,873.50 L196.75,872.78 L196.94,872.07 L197.12,871.36 L197.31,870.65 L197.49,869.96 L197.68,869.27 L197.86,868.58 L198.05,867.90 M199.90,861.40 L200.17,860.46 L200.45,859.54 L200.73,858.62 L201.01,857.72 L201.29,856.83 L201.56,855.94 L201.84,855.07 L202.12,854.20 M204.31,847.70 L204.61,846.84 L204.91,846.00 L205.21,845.16 L205.52,844.33 L205.82,843.51 L206.12,842.70 L206.42,841.89 L206.72,841.10 M208.90,835.60 L209.25,834.76 L209.60,833.92 L209.95,833.09 L210.30,832.28 L210.65,831.47 L211.00,830.67 L211.35,829.88 L211.70,829.10 M213.75,824.70 L214.09,823.99 L214.43,823.28 L214.77,822.59 L215.12,821.90 L215.46,821.21 L215.80,820.53 L216.15,819.86 L216.49,819.20 M219.41,813.80 L219.81,813.09 L220.21,812.38 L220.62,811.68 L221.02,810.99 L221.42,810.31 L221.83,809.63 L222.23,808.96 L222.63,808.30 M225.42,803.90 L225.83,803.27 L226.25,802.64 L226.67,802.02 L227.09,801.40 L227.51,800.79 L227.92,800.19 L228.34,799.59 L228.76,799.00 M232.84,793.50 L233.28,792.93 L233.73,792.37 L234.17,791.81 L234.61,791.26 L235.06,790.71 L235.50,790.17 L235.94,789.63 L236.39,789.10 M239.68,785.30 L240.25,784.66 L240.82,784.03 L241.39,783.41 L241.97,782.80 L242.54,782.19 L243.11,781.59 L243.68,780.99 L244.25,780.40 M248.10,776.60 L248.70,776.03 L249.30,775.47 L249.90,774.91 L250.50,774.35 L251.10,773.81 L251.70,773.27 L252.30,772.73 L252.90,772.20 M257.30,768.46 L257.94,767.95 L258.57,767.43 L259.21,766.92 L259.85,766.42 L260.49,765.92 L261.12,765.43 L261.76,764.94 L262.40,764.45 M266.20,761.66 L267.01,761.08 L267.82,760.51 L268.64,759.95 L269.45,759.39 L270.26,758.84 L271.07,758.30 L271.89,757.76 L272.70,757.23 M277.10,754.45 L277.70,754.08 L278.30,753.71 L278.90,753.35 L279.50,752.99 L280.10,752.64 L280.70,752.29 L281.30,751.94 L281.90,751.59 M287.30,748.57 L287.96,748.22 L288.62,747.87 L289.29,747.51 L289.95,747.17 L290.61,746.82 L291.28,746.48 L291.94,746.14 L292.60,745.80 M299.20,742.58 L299.91,742.25 L300.62,741.92 L301.34,741.59 L302.05,741.26 L302.76,740.94 L303.47,740.62 L304.19,740.30 L304.90,739.98 M310.20,737.70 L310.90,737.41 L311.60,737.12 L312.30,736.83 L313.00,736.55 L313.70,736.26 L314.40,735.98 L315.10,735.70 L315.80,735.42 M322.10,733.01 L322.85,732.73 L323.60,732.45 L324.35,732.18 L325.10,731.91 L325.85,731.64 L326.60,731.37 L327.35,731.10 L328.10,730.84 M333.50,728.98 L334.29,728.72 L335.08,728.46 L335.86,728.20 L336.65,727.94 L337.44,727.68 L338.23,727.43 L339.01,727.18 L339.80,726.92 M346.00,725.01 L346.74,724.78 L347.48,724.56 L348.21,724.34 L348.95,724.13 L349.69,723.91 L350.42,723.70 L351.16,723.48 L351.90,723.27 M358.20,721.50 L359.02,721.28 L359.85,721.05 L360.67,720.83 L361.50,720.61 L362.33,720.39 L363.15,720.17 L363.98,719.96 L364.80,719.74 M371.30,718.09 L372.10,717.89 L372.90,717.69 L373.70,717.50 L374.50,717.30 L375.30,717.11 L376.10,716.92 L376.90,716.73 L377.70,716.54 M384.00,715.07 L384.88,714.88 L385.75,714.68 L386.62,714.48 L387.50,714.29 L388.38,714.09 L389.25,713.90 L390.12,713.71 L391.00,713.52 M397.30,712.18 L398.11,712.02 L398.93,711.85 L399.74,711.68 L400.55,711.52 L401.36,711.35 L402.18,711.19 L402.99,711.02 L403.80,710.86 M410.00,709.65 L410.81,709.49 L411.62,709.34 L412.44,709.18 L413.25,709.03 L414.06,708.88 L414.88,708.72 L415.69,708.57 L416.50,708.42 M424.30,707.01 L425.11,706.87 L425.93,706.73 L426.74,706.59 L427.55,706.44 L428.36,706.30 L429.18,706.16 L429.99,706.03 L430.80,705.89 M437.40,704.78 L438.29,704.64 L439.17,704.49 L440.06,704.35 L440.95,704.21 L441.84,704.07 L442.73,703.92 L443.61,703.78 L444.50,703.64 M451.20,702.60 L452.04,702.48 L452.87,702.35 L453.71,702.22 L454.55,702.10 L455.39,701.97 L456.22,701.85 L457.06,701.72 L457.90,701.60 M465.10,700.56 L465.95,700.44 L466.80,700.32 L467.65,700.20 L468.50,700.08 L469.35,699.96 L470.20,699.84 L471.05,699.73 L471.90,699.61 M479.00,698.65 L479.98,698.52 L480.95,698.39 L481.93,698.27 L482.90,698.14 L483.88,698.01 L484.85,697.89 L485.82,697.76 L486.80,697.64 M494.00,696.73 L494.96,696.61 L495.92,696.49 L496.89,696.38 L497.85,696.26 L498.81,696.14 L499.77,696.03 L500.74,695.91 L501.70,695.79 M509.40,694.89 L510.22,694.79 L511.05,694.70 L511.88,694.60 L512.70,694.51 L513.53,694.42 L514.35,694.32 L515.17,694.23 L516.00,694.14 M523.10,693.35 L523.96,693.26 L524.83,693.16 L525.69,693.07 L526.55,692.98 L527.41,692.89 L528.28,692.79 L529.14,692.70 L530.00,692.61 M536.90,691.89 L537.86,691.79 L538.83,691.69 L539.79,691.59 L540.75,691.50 L541.71,691.40 L542.67,691.30 L543.64,691.20 L544.60,691.11 M551.50,690.43 L552.44,690.34 L553.38,690.25 L554.31,690.16 L555.25,690.07 L556.19,689.98 L557.12,689.89 L558.06,689.80 L559.00,689.71 M567.30,688.94 L568.11,688.86 L568.92,688.79 L569.74,688.71 L570.55,688.64 L571.36,688.57 L572.17,688.49 L572.99,688.42 L573.80,688.35 M581.20,687.69 L582.14,687.61 L583.08,687.53 L584.01,687.45 L584.95,687.37 L585.89,687.29 L586.83,687.21 L587.76,687.13 L588.70,687.05 M596.20,686.42 L597.15,686.34 L598.10,686.27 L599.05,686.19 L600.00,686.11 L600.95,686.03 L601.90,685.96 L602.85,685.88 L603.80,685.80 M611.10,685.22 L611.95,685.16 L612.80,685.09 L613.65,685.02 L614.50,684.96 L615.35,684.89 L616.20,684.83 L617.05,684.76 L617.90,684.69 M626.20,684.07 L627.01,684.01 L627.83,683.95 L628.64,683.88 L629.45,683.82 L630.26,683.76 L631.08,683.70 L631.89,683.65 L632.70,683.59 M641.10,682.98 L641.91,682.92 L642.73,682.86 L643.54,682.81 L644.35,682.75 L645.16,682.69 L645.98,682.63 L646.79,682.58 L647.60,682.52 M656.00,681.94 L656.86,681.88 L657.72,681.83 L658.59,681.77 L659.45,681.71 L660.31,681.65 L661.17,681.59 L662.04,681.54 L662.90,681.48 M671.20,680.93 L672.01,680.88 L672.83,680.83 L673.64,680.77 L674.45,680.72 L675.26,680.67 L676.08,680.62 L676.89,680.57 L677.70,680.51 M686.20,679.98 L687.05,679.93 L687.90,679.87 L688.75,679.82 L689.60,679.77 L690.45,679.72 L691.30,679.66 L692.15,679.61 L693.00,679.56 M701.10,679.07 L701.95,679.02 L702.80,678.97 L703.65,678.92 L704.50,678.87 L705.35,678.82 L706.20,678.77 L707.05,678.72 L707.90,678.67 M716.20,678.19 L717.16,678.13 L718.12,678.08 L719.09,678.02 L720.05,677.97 L721.01,677.91 L721.98,677.86 L722.94,677.81 L723.90,677.75 M731.10,677.35 L732.06,677.30 L733.03,677.25 L733.99,677.19 L734.95,677.14 L735.91,677.09 L736.88,677.04 L737.84,676.99 L738.80,676.93 M746.00,676.55 L746.96,676.50 L747.92,676.45 L748.89,676.40 L749.85,676.35 L750.81,676.30 L751.78,676.25 L752.74,676.20 L753.70,676.15 M761.20,675.76 L762.16,675.71 L763.12,675.66 L764.09,675.61 L765.05,675.57 L766.01,675.52 L766.98,675.47 L767.94,675.42 L768.90,675.37 M777.10,674.97 L777.94,674.93 L778.77,674.89 L779.61,674.85 L780.45,674.80 L781.29,674.76 L782.12,674.72 L782.96,674.68 L783.80,674.64 M792.10,674.25 L793.08,674.20 L794.05,674.16 L795.02,674.11 L796.00,674.06 L796.98,674.02 L797.95,673.97 L798.92,673.93 L799.90,673.88 M807.30,673.54 L808.24,673.50 L809.17,673.46 L810.11,673.42 L811.05,673.37 L811.99,673.33 L812.92,673.29 L813.86,673.25 L814.80,673.20 M823.10,672.84 L823.94,672.80 L824.77,672.76 L825.61,672.73 L826.45,672.69 L827.29,672.65 L828.12,672.62 L828.96,672.58 L829.80,672.55 M838.30,672.18 L839.27,672.14 L840.25,672.10 L841.23,672.06 L842.20,672.02 L843.17,671.98 L844.15,671.93 L845.12,671.89 L846.10,671.85 M853.20,671.56 L854.18,671.52 L855.15,671.48 L856.12,671.44 L857.10,671.40 L858.08,671.36 L859.05,671.32 L860.02,671.28 L861.00,671.24 M868.70,670.93 L869.62,670.90 L870.55,670.86 L871.48,670.82 L872.40,670.79 L873.33,670.75 L874.25,670.72 L875.17,670.68 L876.10,670.64 M884.20,670.33 L885.16,670.29 L886.12,670.25 L887.09,670.22 L888.05,670.18 L889.01,670.14 L889.98,670.11 L890.94,670.07 L891.90,670.04 M899.30,669.76 L900.26,669.72 L901.23,669.69 L902.19,669.65 L903.15,669.61 L904.11,669.58 L905.07,669.54 L906.04,669.51 L907.00,669.47 M915.10,669.18 L916.08,669.14 L917.05,669.11 L918.02,669.07 L919.00,669.04 L919.97,669.00 L920.95,668.97 L921.92,668.93 L922.90,668.90 M930.00,668.65 L931.00,668.61 L932.00,668.58 L933.00,668.54 L934.00,668.51 L935.00,668.47 L936.00,668.44 L937.00,668.40 L938.00,668.37 M946.10,668.09 L947.06,668.06 L948.02,668.03 L948.99,668.00 L949.95,667.96 L950.91,667.93 L951.88,667.90 L952.84,667.87 L953.80,667.83 M961.10,667.59 L962.06,667.56 L963.02,667.53 L963.99,667.50 L964.95,667.46 L965.91,667.43 L966.88,667.40 L967.84,667.37 L968.80,667.34 M977.10,667.07 L978.08,667.04 L979.05,667.01 L980.02,666.98 L981.00,666.95 L981.97,666.92 L982.95,666.88 L983.92,666.85 L984.90,666.82 M992.00,666.60 L992.97,666.57 L993.95,666.54 L994.92,666.51 L995.90,666.48 L996.87,666.45 L997.85,666.42 L998.82,666.39 L999.80,666.36 M1008.10,666.11 L1009.06,666.08 L1010.02,666.05 L1010.99,666.02 L1011.95,665.99 L1012.91,665.96 L1013.88,665.93 L1014.84,665.90 L1015.80,665.87 M1023.20,665.65 L1024.18,665.63 L1025.15,665.60 L1026.12,665.57 L1027.10,665.54 L1028.07,665.51 L1029.05,665.48 L1030.03,665.45 L1031.00,665.43 M1039.00,665.19 L1039.98,665.17 L1040.95,665.14 L1041.92,665.11 L1042.90,665.08 L1043.88,665.06 L1044.85,665.03 L1045.82,665.00 L1046.80,664.97 M1054.30,664.76 L1055.25,664.73 L1056.20,664.71 L1057.15,664.68 L1058.10,664.66 L1059.05,664.63 L1060.00,664.60 L1060.95,664.58 L1061.90,664.55 M1070.20,664.32 L1071.18,664.30 L1072.15,664.27 L1073.12,664.24 L1074.10,664.22 L1075.07,664.19 L1076.05,664.16 L1077.03,664.14 L1078.00,664.11 M1086.10,663.89 L1086.95,663.87 L1087.80,663.85 L1088.65,663.83 L1089.50,663.80 L1090.35,663.78 L1091.20,663.76 L1092.05,663.74 L1092.90,663.72 M1101.10,663.50 L1102.06,663.48 L1103.03,663.45 L1103.99,663.43 L1104.95,663.40 L1105.91,663.38 L1106.88,663.35 L1107.84,663.33 L1108.80,663.30 M1116.90,663.10 L1117.86,663.07 L1118.83,663.05 L1119.79,663.02 L1120.75,663.00 L1121.71,662.98 L1122.67,662.95 L1123.64,662.93 L1124.60,662.90 M1132.00,662.72 L1132.98,662.70 L1133.95,662.67 L1134.92,662.65 L1135.90,662.62 L1136.88,662.60 L1137.85,662.58 L1138.82,662.55 L1139.80,662.53 M1148.10,662.33 L1149.06,662.31 L1150.03,662.28 L1150.99,662.26 L1151.95,662.24 L1152.91,662.21 L1153.87,662.19 L1154.84,662.17 L1155.80,662.14 M1164.20,661.95 L1165.16,661.92 L1166.12,661.90 L1167.09,661.88 L1168.05,661.86 L1169.01,661.83 L1169.97,661.81 L1170.94,661.79 L1171.90,661.77 M1179.30,661.60 L1180.24,661.57 L1181.17,661.55 L1182.11,661.53 L1183.05,661.51 L1183.99,661.49 L1184.92,661.47 L1185.86,661.45 L1186.80,661.42 M1195.10,661.24 L1196.08,661.21 L1197.05,661.19 L1198.03,661.17 L1199.00,661.15 L1199.98,661.13 L1200.95,661.11 L1201.92,661.08 L1202.90,661.06 M1211.20,660.88 L1212.05,660.86 L1212.90,660.84 L1213.75,660.82 L1214.60,660.81 L1215.45,660.79 L1216.30,660.77 L1217.15,660.75 L1218.00,660.73 M1226.10,660.56 L1227.06,660.54 L1228.03,660.52 L1228.99,660.49 L1229.95,660.47 L1230.91,660.45 L1231.88,660.43 L1232.84,660.41 L1233.80,660.39 M1242.00,660.22 L1242.95,660.20 L1243.90,660.18 L1244.85,660.16 L1245.80,660.14 L1246.75,660.12 L1247.70,660.10 L1248.65,660.08 L1249.60,660.06 M1257.80,659.89 L1258.69,659.87 L1259.58,659.85 L1260.46,659.84 L1261.35,659.82 L1262.24,659.80 L1263.12,659.78 L1264.01,659.76 L1264.90,659.75"/>
</g>
<line x1="108.5" y1="59" x2="108.5" y2="874" class="bd" stroke-width="1"/>
<line x1="108" y1="59.5" x2="1330" y2="59.5" class="bd" stroke-width="1"/>
<line x1="1329" y1="59" x2="1329" y2="874" class="bd" stroke-width="2"/>
<line x1="108" y1="873" x2="1330" y2="873" class="bd" stroke-width="2"/>
<line x1="163.5" y1="874" x2="163.5" y2="881" class="tk"/>
<line x1="519.5" y1="874" x2="519.5" y2="881" class="tk"/>
<line x1="876.5" y1="874" x2="876.5" y2="881" class="tk"/>
<line x1="1232.5" y1="874" x2="1232.5" y2="881" class="tk"/>
<line x1="100" y1="836.5" x2="108" y2="836.5" class="tk"/>
<line x1="100" y1="688.5" x2="108" y2="688.5" class="tk"/>
<line x1="100" y1="540.5" x2="108" y2="540.5" class="tk"/>
<line x1="100" y1="392.5" x2="108" y2="392.5" class="tk"/>
<line x1="100" y1="244.5" x2="108" y2="244.5" class="tk"/>
<line x1="100" y1="96.5" x2="108" y2="96.5" class="tk"/>
<text x="162.50" y="906" class="ax" text-anchor="middle">0</text>
<text x="518.83" y="906" class="ax" text-anchor="middle">2000</text>
<text x="875.17" y="906" class="ax" text-anchor="middle">4000</text>
<text x="1231.50" y="906" class="ax" text-anchor="middle">6000</text>
<text x="95" y="845.80" class="ay" text-anchor="end">0.00</text>
<text x="95" y="697.80" class="ay" text-anchor="end">0.01</text>
<text x="95" y="549.80" class="ay" text-anchor="end">0.02</text>
<text x="95" y="401.80" class="ay" text-anchor="end">0.03</text>
<text x="95" y="253.80" class="ay" text-anchor="end">0.04</text>
<text x="95" y="105.80" class="ay" text-anchor="end">0.05</text>
<text y="39" class="ti"><tspan x="107.3">Cumulative</tspan> <tspan x="274.4">Fatality</tspan> <tspan x="385.1">Rate</tspan> <tspan x="459.9">by</tspan> <tspan x="500.6">Cumulative</tspan> <tspan x="667.1">Number</tspan> <tspan x="790.1">of</tspan> <tspan x="825.6">COVID-19</tspan> <tspan x="982.8">Cases</tspan></text>
<text y="940" class="at"><tspan x="457.0">Cumulative</tspan> <tspan x="610.7">Number</tspan> <tspan x="722.5">of</tspan> <tspan x="754.4">COVID-19</tspan> <tspan x="895.5">Cases</tspan></text>
<text transform="rotate(-90)" y="36.8" class="at"><tspan x="-622.4" style="letter-spacing:-0.15px">Cumulative</tspan> <tspan x="-470.75">Fatality</tspan> <tspan x="-370.1">Rate</tspan></text>
</svg>
</body></html>
